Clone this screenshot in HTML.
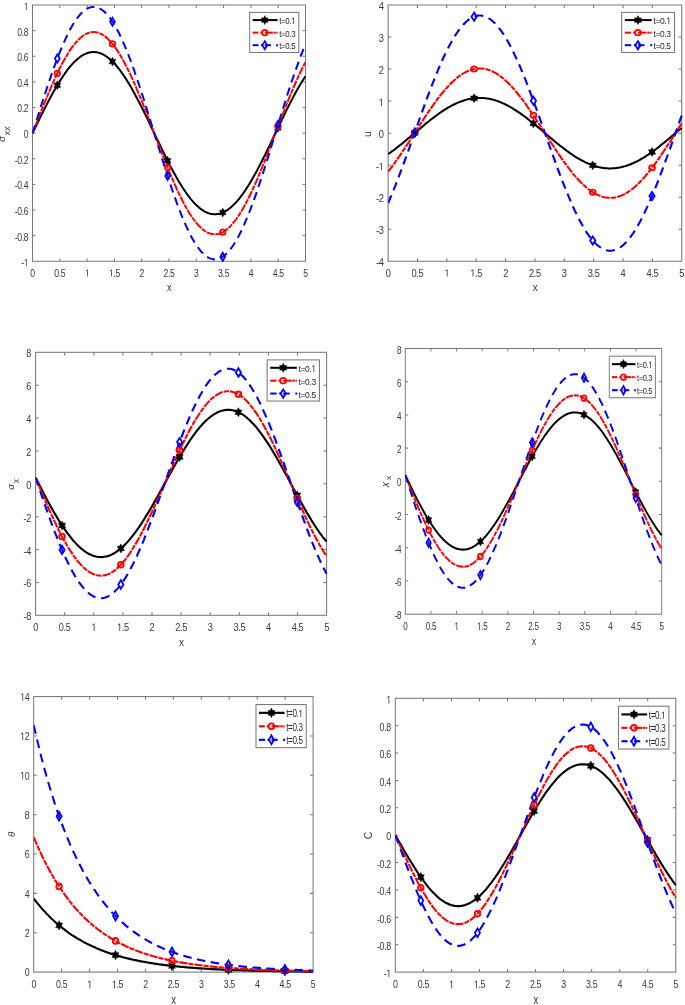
<!DOCTYPE html>
<html><head><meta charset="utf-8"><title>plots</title>
<style>html,body{margin:0;padding:0;background:#fff;}svg{display:block;will-change:transform;filter:blur(0.35px);}</style>
</head><body>
<svg width="685" height="1005" viewBox="0 0 685 1005" font-family="'Liberation Sans', sans-serif" fill="#383838">
<rect x="0" y="0" width="685" height="1005" fill="#ffffff"/>
<g transform="translate(32.50,5.00) scale(1.0000,1.0000)">
<g stroke="#787878" stroke-width="1" fill="none">
<rect x="0" y="0" width="273.00" height="256.30"/>
<path d="M27.30 256.30v-3.00M27.30 0.00v3.00M54.60 256.30v-3.00M54.60 0.00v3.00M81.90 256.30v-3.00M81.90 0.00v3.00M109.20 256.30v-3.00M109.20 0.00v3.00M136.50 256.30v-3.00M136.50 0.00v3.00M163.80 256.30v-3.00M163.80 0.00v3.00M191.10 256.30v-3.00M191.10 0.00v3.00M218.40 256.30v-3.00M218.40 0.00v3.00M245.70 256.30v-3.00M245.70 0.00v3.00M0.00 230.67h3.00M273.00 230.67h-3.00M0.00 205.04h3.00M273.00 205.04h-3.00M0.00 179.41h3.00M273.00 179.41h-3.00M0.00 153.78h3.00M273.00 153.78h-3.00M0.00 128.15h3.00M273.00 128.15h-3.00M0.00 102.52h3.00M273.00 102.52h-3.00M0.00 76.89h3.00M273.00 76.89h-3.00M0.00 51.26h3.00M273.00 51.26h-3.00M0.00 25.63h3.00M273.00 25.63h-3.00"/>
</g>
<clipPath id="c0"><rect x="0" y="-1" width="274.00" height="258.30"/></clipPath>
<g clip-path="url(#c0)" fill="none" stroke-width="2.0">
<polyline points="0.0,128.2 1.1,125.9 2.2,123.7 3.3,121.5 4.4,119.3 5.5,117.1 6.6,114.8 7.6,112.6 8.7,110.4 9.8,108.2 10.9,106.1 12.0,103.9 13.1,101.7 14.2,99.6 15.3,97.5 16.4,95.4 17.5,93.3 18.6,91.3 19.7,89.3 20.7,87.3 21.8,85.4 22.9,83.4 24.0,81.6 25.1,79.7 26.2,77.9 27.3,76.1 28.4,74.4 29.5,72.7 30.6,71.1 31.7,69.5 32.8,67.9 33.9,66.4 34.9,64.9 36.0,63.5 37.1,62.2 38.2,60.9 39.3,59.6 40.4,58.4 41.5,57.3 42.6,56.2 43.7,55.2 44.8,54.2 45.9,53.3 47.0,52.4 48.0,51.6 49.1,50.9 50.2,50.2 51.3,49.6 52.4,49.1 53.5,48.6 54.6,48.2 55.7,47.8 56.8,47.5 57.9,47.3 59.0,47.2 60.1,47.1 61.2,47.0 62.2,47.1 63.3,47.2 64.4,47.3 65.5,47.6 66.6,47.9 67.7,48.2 68.8,48.6 69.9,49.1 71.0,49.7 72.1,50.3 73.2,51.0 74.3,51.7 75.3,52.5 76.4,53.3 77.5,54.3 78.6,55.2 79.7,56.3 80.8,57.4 81.9,58.5 83.0,59.7 84.1,61.0 85.2,62.3 86.3,63.7 87.4,65.1 88.5,66.6 89.5,68.1 90.6,69.6 91.7,71.3 92.8,72.9 93.9,74.6 95.0,76.4 96.1,78.1 97.2,80.0 98.3,81.8 99.4,83.7 100.5,85.7 101.6,87.7 102.6,89.7 103.7,91.7 104.8,93.8 105.9,95.9 107.0,98.0 108.1,100.1 109.2,102.3 110.3,104.5 111.4,106.7 112.5,108.9 113.6,111.1 114.7,113.4 115.8,115.6 116.8,117.9 117.9,120.2 119.0,122.5 120.1,124.8 121.2,127.1 122.3,129.4 123.4,131.7 124.5,134.0 125.6,136.2 126.7,138.5 127.8,140.8 128.9,143.1 129.9,145.3 131.0,147.5 132.1,149.8 133.2,152.0 134.3,154.2 135.4,156.3 136.5,158.5 137.6,160.6 138.7,162.7 139.8,164.7 140.9,166.8 142.0,168.8 143.1,170.7 144.1,172.7 145.2,174.6 146.3,176.4 147.4,178.3 148.5,180.0 149.6,181.8 150.7,183.5 151.8,185.1 152.9,186.8 154.0,188.3 155.1,189.8 156.2,191.3 157.2,192.7 158.3,194.1 159.4,195.4 160.5,196.6 161.6,197.9 162.7,199.0 163.8,200.1 164.9,201.1 166.0,202.1 167.1,203.0 168.2,203.9 169.3,204.7 170.4,205.4 171.4,206.1 172.5,206.7 173.6,207.2 174.7,207.7 175.8,208.1 176.9,208.5 178.0,208.8 179.1,209.0 180.2,209.1 181.3,209.2 182.4,209.3 183.5,209.2 184.5,209.1 185.6,209.0 186.7,208.7 187.8,208.5 188.9,208.1 190.0,207.7 191.1,207.2 192.2,206.6 193.3,206.0 194.4,205.4 195.5,204.6 196.6,203.8 197.7,203.0 198.7,202.0 199.8,201.1 200.9,200.0 202.0,198.9 203.1,197.8 204.2,196.6 205.3,195.3 206.4,194.0 207.5,192.6 208.6,191.2 209.7,189.8 210.8,188.2 211.8,186.7 212.9,185.1 214.0,183.4 215.1,181.7 216.2,180.0 217.3,178.2 218.4,176.3 219.5,174.5 220.6,172.6 221.7,170.6 222.8,168.7 223.9,166.7 225.0,164.6 226.0,162.6 227.1,160.5 228.2,158.4 229.3,156.2 230.4,154.0 231.5,151.9 232.6,149.7 233.7,147.4 234.8,145.2 235.9,142.9 237.0,140.7 238.1,138.4 239.1,136.1 240.2,133.8 241.3,131.5 242.4,129.3 243.5,127.0 244.6,124.7 245.7,122.4 246.8,120.1 247.9,117.8 249.0,115.5 250.1,113.3 251.2,111.0 252.3,108.8 253.3,106.6 254.4,104.4 255.5,102.2 256.6,100.0 257.7,97.9 258.8,95.7 259.9,93.7 261.0,91.6 262.1,89.6 263.2,87.6 264.3,85.6 265.4,83.6 266.4,81.7 267.5,79.9 268.6,78.1 269.7,76.3 270.8,74.5 271.9,72.8 273.0,71.2" stroke="#000000"/>
<polyline points="0.0,128.2 1.1,125.4 2.2,122.6 3.3,119.9 4.4,117.1 5.5,114.3 6.6,111.6 7.6,108.8 8.7,106.1 9.8,103.3 10.9,100.6 12.0,97.9 13.1,95.2 14.2,92.6 15.3,89.9 16.4,87.3 17.5,84.8 18.6,82.2 19.7,79.7 20.7,77.2 21.8,74.8 22.9,72.4 24.0,70.1 25.1,67.8 26.2,65.5 27.3,63.3 28.4,61.1 29.5,59.0 30.6,57.0 31.7,55.0 32.8,53.0 33.9,51.2 34.9,49.4 36.0,47.6 37.1,45.9 38.2,44.3 39.3,42.7 40.4,41.2 41.5,39.8 42.6,38.4 43.7,37.2 44.8,36.0 45.9,34.8 47.0,33.8 48.0,32.8 49.1,31.9 50.2,31.0 51.3,30.3 52.4,29.6 53.5,29.0 54.6,28.5 55.7,28.0 56.8,27.7 57.9,27.4 59.0,27.2 60.1,27.1 61.2,27.0 62.2,27.1 63.3,27.2 64.4,27.4 65.5,27.7 66.6,28.1 67.7,28.5 68.8,29.0 69.9,29.6 71.0,30.3 72.1,31.1 73.2,31.9 74.3,32.9 75.3,33.8 76.4,34.9 77.5,36.1 78.6,37.3 79.7,38.6 80.8,39.9 81.9,41.4 83.0,42.9 84.1,44.4 85.2,46.1 86.3,47.8 87.4,49.5 88.5,51.4 89.5,53.3 90.6,55.2 91.7,57.2 92.8,59.3 93.9,61.4 95.0,63.6 96.1,65.8 97.2,68.1 98.3,70.4 99.4,72.8 100.5,75.2 101.6,77.7 102.6,80.2 103.7,82.7 104.8,85.3 105.9,87.9 107.0,90.5 108.1,93.2 109.2,95.9 110.3,98.6 111.4,101.4 112.5,104.1 113.6,106.9 114.7,109.7 115.8,112.6 116.8,115.4 117.9,118.2 119.0,121.1 120.1,123.9 121.2,126.8 122.3,129.7 123.4,132.5 124.5,135.4 125.6,138.2 126.7,141.1 127.8,143.9 128.9,146.7 129.9,149.5 131.0,152.3 132.1,155.1 133.2,157.8 134.3,160.6 135.4,163.3 136.5,165.9 137.6,168.6 138.7,171.2 139.8,173.7 140.9,176.3 142.0,178.8 143.1,181.2 144.1,183.6 145.2,186.0 146.3,188.3 147.4,190.6 148.5,192.8 149.6,195.0 150.7,197.1 151.8,199.2 152.9,201.2 154.0,203.2 155.1,205.0 156.2,206.9 157.2,208.6 158.3,210.3 159.4,212.0 160.5,213.5 161.6,215.0 162.7,216.5 163.8,217.8 164.9,219.1 166.0,220.3 167.1,221.5 168.2,222.5 169.3,223.5 170.4,224.4 171.4,225.3 172.5,226.0 173.6,226.7 174.7,227.3 175.8,227.8 176.9,228.3 178.0,228.6 179.1,228.9 180.2,229.1 181.3,229.2 182.4,229.3 183.5,229.2 184.5,229.1 185.6,228.9 186.7,228.6 187.8,228.2 188.9,227.8 190.0,227.3 191.1,226.7 192.2,226.0 193.3,225.2 194.4,224.4 195.5,223.5 196.6,222.5 197.7,221.4 198.7,220.3 199.8,219.0 200.9,217.7 202.0,216.4 203.1,215.0 204.2,213.5 205.3,211.9 206.4,210.2 207.5,208.5 208.6,206.8 209.7,204.9 210.8,203.1 211.8,201.1 212.9,199.1 214.0,197.0 215.1,194.9 216.2,192.7 217.3,190.5 218.4,188.2 219.5,185.9 220.6,183.5 221.7,181.1 222.8,178.7 223.9,176.2 225.0,173.6 226.0,171.0 227.1,168.4 228.2,165.8 229.3,163.1 230.4,160.4 231.5,157.7 232.6,155.0 233.7,152.2 234.8,149.4 235.9,146.6 237.0,143.8 238.1,140.9 239.1,138.1 240.2,135.2 241.3,132.4 242.4,129.5 243.5,126.7 244.6,123.8 245.7,120.9 246.8,118.1 247.9,115.3 249.0,112.4 250.1,109.6 251.2,106.8 252.3,104.0 253.3,101.2 254.4,98.5 255.5,95.8 256.6,93.1 257.7,90.4 258.8,87.8 259.9,85.2 261.0,82.6 262.1,80.0 263.2,77.5 264.3,75.1 265.4,72.7 266.4,70.3 267.5,68.0 268.6,65.7 269.7,63.5 270.8,61.3 271.9,59.2 273.0,57.1" stroke="#ff0000" stroke-dasharray="7.9 1.0 5.0 1.0"/>
<polyline points="0.0,128.2 1.1,124.7 2.2,121.3 3.3,117.8 4.4,114.3 5.5,110.9 6.6,107.4 7.6,104.0 8.7,100.6 9.8,97.2 10.9,93.8 12.0,90.4 13.1,87.1 14.2,83.7 15.3,80.5 16.4,77.2 17.5,74.0 18.6,70.8 19.7,67.7 20.7,64.6 21.8,61.6 22.9,58.6 24.0,55.6 25.1,52.8 26.2,50.0 27.3,47.2 28.4,44.5 29.5,41.9 30.6,39.3 31.7,36.8 32.8,34.4 33.9,32.0 34.9,29.8 36.0,27.6 37.1,25.5 38.2,23.4 39.3,21.5 40.4,19.6 41.5,17.8 42.6,16.2 43.7,14.6 44.8,13.0 45.9,11.6 47.0,10.3 48.0,9.1 49.1,7.9 50.2,6.9 51.3,6.0 52.4,5.1 53.5,4.4 54.6,3.7 55.7,3.2 56.8,2.7 57.9,2.4 59.0,2.1 60.1,2.0 61.2,1.9 62.2,2.0 63.3,2.1 64.4,2.4 65.5,2.7 66.6,3.2 67.7,3.8 68.8,4.4 69.9,5.2 71.0,6.0 72.1,7.0 73.2,8.0 74.3,9.2 75.3,10.4 76.4,11.8 77.5,13.2 78.6,14.7 79.7,16.3 80.8,18.0 81.9,19.8 83.0,21.7 84.1,23.6 85.2,25.7 86.3,27.8 87.4,30.0 88.5,32.3 89.5,34.7 90.6,37.1 91.7,39.6 92.8,42.2 93.9,44.8 95.0,47.6 96.1,50.3 97.2,53.2 98.3,56.1 99.4,59.0 100.5,62.1 101.6,65.1 102.6,68.3 103.7,71.4 104.8,74.6 105.9,77.9 107.0,81.2 108.1,84.5 109.2,87.9 110.3,91.3 111.4,94.7 112.5,98.2 113.6,101.7 114.7,105.2 115.8,108.7 116.8,112.2 117.9,115.8 119.0,119.3 120.1,122.9 121.2,126.5 122.3,130.0 123.4,133.6 124.5,137.2 125.6,140.7 126.7,144.3 127.8,147.8 128.9,151.3 129.9,154.8 131.0,158.3 132.1,161.8 133.2,165.2 134.3,168.6 135.4,172.0 136.5,175.3 137.6,178.6 138.7,181.9 139.8,185.1 140.9,188.2 142.0,191.4 143.1,194.4 144.1,197.4 145.2,200.4 146.3,203.3 147.4,206.1 148.5,208.9 149.6,211.6 150.7,214.3 151.8,216.8 152.9,219.3 154.0,221.8 155.1,224.1 156.2,226.4 157.2,228.6 158.3,230.7 159.4,232.8 160.5,234.7 161.6,236.6 162.7,238.4 163.8,240.1 164.9,241.7 166.0,243.2 167.1,244.6 168.2,246.0 169.3,247.2 170.4,248.3 171.4,249.4 172.5,250.3 173.6,251.2 174.7,251.9 175.8,252.6 176.9,253.1 178.0,253.6 179.1,253.9 180.2,254.2 181.3,254.3 182.4,254.4 183.5,254.3 184.5,254.2 185.6,253.9 186.7,253.6 187.8,253.1 188.9,252.5 190.0,251.9 191.1,251.1 192.2,250.3 193.3,249.3 194.4,248.3 195.5,247.1 196.6,245.9 197.7,244.6 198.7,243.1 199.8,241.6 200.9,240.0 202.0,238.3 203.1,236.5 204.2,234.6 205.3,232.7 206.4,230.6 207.5,228.5 208.6,226.3 209.7,224.0 210.8,221.7 211.8,219.2 212.9,216.7 214.0,214.1 215.1,211.5 216.2,208.8 217.3,206.0 218.4,203.1 219.5,200.2 220.6,197.3 221.7,194.3 222.8,191.2 223.9,188.1 225.0,184.9 226.0,181.7 227.1,178.4 228.2,175.1 229.3,171.8 230.4,168.4 231.5,165.0 232.6,161.6 233.7,158.2 234.8,154.7 235.9,151.2 237.0,147.6 238.1,144.1 239.1,140.6 240.2,137.0 241.3,133.4 242.4,129.9 243.5,126.3 244.6,122.7 245.7,119.2 246.8,115.6 247.9,112.0 249.0,108.5 250.1,105.0 251.2,101.5 252.3,98.0 253.3,94.6 254.4,91.1 255.5,87.7 256.6,84.4 257.7,81.0 258.8,77.7 259.9,74.5 261.0,71.3 262.1,68.1 263.2,65.0 264.3,61.9 265.4,58.9 266.4,55.9 267.5,53.0 268.6,50.2 269.7,47.4 270.8,44.7 271.9,42.1 273.0,39.5" stroke="#0000ff" stroke-dasharray="8.3 5.4"/>
</g>
<polygon points="24.82,75.81 23.70,78.01 21.46,78.01 22.58,80.21 21.46,82.41 23.70,82.41 24.82,84.61 25.94,82.41 28.17,82.41 27.05,80.21 28.17,78.01 25.94,78.01" fill="#000" stroke="#000" stroke-width="0.5" stroke-linejoin="round"/>
<polygon points="79.97,52.13 78.85,54.33 76.62,54.33 77.73,56.53 76.62,58.73 78.85,58.73 79.97,60.93 81.09,58.73 83.32,58.73 82.21,56.53 83.32,54.33 81.09,54.33" fill="#000" stroke="#000" stroke-width="0.5" stroke-linejoin="round"/>
<polygon points="135.12,151.35 134.00,153.55 131.77,153.55 132.89,155.75 131.77,157.95 134.00,157.95 135.12,160.15 136.24,157.95 138.47,157.95 137.36,155.75 138.47,153.55 136.24,153.55" fill="#000" stroke="#000" stroke-width="0.5" stroke-linejoin="round"/>
<polygon points="190.27,203.16 189.15,205.36 186.92,205.36 188.04,207.56 186.92,209.76 189.15,209.76 190.27,211.96 191.39,209.76 193.63,209.76 192.51,207.56 193.63,205.36 191.39,205.36" fill="#000" stroke="#000" stroke-width="0.5" stroke-linejoin="round"/>
<polygon points="245.42,118.55 244.31,120.75 242.07,120.75 243.19,122.95 242.07,125.15 244.31,125.15 245.42,127.35 246.54,125.15 248.78,125.15 247.66,122.95 248.78,120.75 246.54,120.75" fill="#000" stroke="#000" stroke-width="0.5" stroke-linejoin="round"/>
<circle cx="24.82" cy="68.39" r="2.70" fill="none" stroke="#ff0000" stroke-width="1.75"/>
<circle cx="79.97" cy="38.88" r="2.70" fill="none" stroke="#ff0000" stroke-width="1.75"/>
<circle cx="135.12" cy="162.55" r="2.70" fill="none" stroke="#ff0000" stroke-width="1.75"/>
<circle cx="190.27" cy="227.13" r="2.70" fill="none" stroke="#ff0000" stroke-width="1.75"/>
<circle cx="245.42" cy="121.67" r="2.70" fill="none" stroke="#ff0000" stroke-width="1.75"/>
<polygon points="24.82,49.45 27.27,53.55 24.82,57.65 22.37,53.55" fill="none" stroke="#0000ff" stroke-width="1.7" stroke-linejoin="miter"/>
<polygon points="79.97,12.60 82.42,16.70 79.97,20.80 77.52,16.70" fill="none" stroke="#0000ff" stroke-width="1.7" stroke-linejoin="miter"/>
<polygon points="135.12,167.00 137.57,171.10 135.12,175.20 132.67,171.10" fill="none" stroke="#0000ff" stroke-width="1.7" stroke-linejoin="miter"/>
<polygon points="190.27,247.62 192.72,251.72 190.27,255.82 187.82,251.72" fill="none" stroke="#0000ff" stroke-width="1.7" stroke-linejoin="miter"/>
<polygon points="245.42,115.96 247.87,120.06 245.42,124.16 242.97,120.06" fill="none" stroke="#0000ff" stroke-width="1.7" stroke-linejoin="miter"/>
<text transform="translate(0.00,271.55) scale(0.830,1)" text-anchor="middle" font-size="10.40" letter-spacing="-0.4" >0</text>
<text transform="translate(27.30,271.55) scale(0.830,1)" text-anchor="middle" font-size="10.40" letter-spacing="-0.4" >0.5</text>
<g transform="translate(54.60,271.55) scale(0.830,1)" font-size="10.40" ><path transform="translate(-2.69,0) scale(0.00508,-0.00508)" d="M515 0V1237L197 1010V1180L530 1409H696V0Z"/></g>
<g transform="translate(81.90,271.55) scale(0.830,1)" font-size="10.40" ><path transform="translate(-6.63,0) scale(0.00508,-0.00508)" d="M515 0V1237L197 1010V1180L530 1409H696V0Z"/><text x="-1.24" letter-spacing="-0.4">.5</text></g>
<text transform="translate(109.20,271.55) scale(0.830,1)" text-anchor="middle" font-size="10.40" letter-spacing="-0.4" >2</text>
<text transform="translate(136.50,271.55) scale(0.830,1)" text-anchor="middle" font-size="10.40" letter-spacing="-0.4" >2.5</text>
<text transform="translate(163.80,271.55) scale(0.830,1)" text-anchor="middle" font-size="10.40" letter-spacing="-0.4" >3</text>
<text transform="translate(191.10,271.55) scale(0.830,1)" text-anchor="middle" font-size="10.40" letter-spacing="-0.4" >3.5</text>
<text transform="translate(218.40,271.55) scale(0.830,1)" text-anchor="middle" font-size="10.40" letter-spacing="-0.4" >4</text>
<text transform="translate(245.70,271.55) scale(0.830,1)" text-anchor="middle" font-size="10.40" letter-spacing="-0.4" >4.5</text>
<text transform="translate(273.00,271.55) scale(0.830,1)" text-anchor="middle" font-size="10.40" letter-spacing="-0.4" >5</text>
<g transform="translate(-4.30,261.20) scale(0.830,1)" font-size="10.40" ><text x="-8.45" letter-spacing="-0.4">-</text><path transform="translate(-5.38,0) scale(0.00508,-0.00508)" d="M515 0V1237L197 1010V1180L530 1409H696V0Z"/></g>
<text transform="translate(-4.30,235.57) scale(0.830,1)" text-anchor="end" font-size="10.40" letter-spacing="-0.4" >-0.8</text>
<text transform="translate(-4.30,209.94) scale(0.830,1)" text-anchor="end" font-size="10.40" letter-spacing="-0.4" >-0.6</text>
<text transform="translate(-4.30,184.31) scale(0.830,1)" text-anchor="end" font-size="10.40" letter-spacing="-0.4" >-0.4</text>
<text transform="translate(-4.30,158.68) scale(0.830,1)" text-anchor="end" font-size="10.40" letter-spacing="-0.4" >-0.2</text>
<text transform="translate(-4.30,133.05) scale(0.830,1)" text-anchor="end" font-size="10.40" letter-spacing="-0.4" >0</text>
<text transform="translate(-4.30,107.42) scale(0.830,1)" text-anchor="end" font-size="10.40" letter-spacing="-0.4" >0.2</text>
<text transform="translate(-4.30,81.79) scale(0.830,1)" text-anchor="end" font-size="10.40" letter-spacing="-0.4" >0.4</text>
<text transform="translate(-4.30,56.16) scale(0.830,1)" text-anchor="end" font-size="10.40" letter-spacing="-0.4" >0.6</text>
<text transform="translate(-4.30,30.53) scale(0.830,1)" text-anchor="end" font-size="10.40" letter-spacing="-0.4" >0.8</text>
<g transform="translate(-4.30,4.90) scale(0.830,1)" font-size="10.40" ><path transform="translate(-5.38,0) scale(0.00508,-0.00508)" d="M515 0V1237L197 1010V1180L530 1409H696V0Z"/></g>
<text transform="translate(136.70,285.90) scale(0.830,1)" text-anchor="middle" font-size="11.30" letter-spacing="-0.4" >x</text>
<text transform="translate(-27.20,136.90) scale(1.0000,1.0000) rotate(-90) scale(1.150,1)" text-anchor="start" font-size="8.60" font-style="italic">&#963;</text>
<text transform="translate(-22.50,130.20) scale(1.0000,1.0000) rotate(-90) scale(1.000,1)" text-anchor="start" font-size="8.70">xx</text>
<rect x="217.20" y="7.40" width="49.10" height="40.10" fill="#fff" stroke="#787878" stroke-width="1"/>
<line x1="220.10" y1="15.10" x2="245.10" y2="15.10" stroke="#000000" stroke-width="2.0"/>
<polygon points="232.30,10.70 231.18,12.90 228.95,12.90 230.06,15.10 228.95,17.30 231.18,17.30 232.30,19.50 233.42,17.30 235.65,17.30 234.54,15.10 235.65,12.90 233.42,12.90" fill="#000" stroke="#000" stroke-width="0.5" stroke-linejoin="round"/>
<g transform="translate(246.70,19.10) scale(0.830,1)" font-size="9.50" fill="#262626"><text x="0.00" letter-spacing="-0.4">t=0.</text><path transform="translate(14.51,0) scale(0.00464,-0.00464)" d="M515 0V1237L197 1010V1180L530 1409H696V0Z"/></g>
<line x1="220.10" y1="27.65" x2="225.80" y2="27.65" stroke="#ff0000" stroke-width="2.0"/>
<line x1="227.80" y1="27.65" x2="229.60" y2="27.65" stroke="#ff0000" stroke-width="2.0"/>
<line x1="232.30" y1="27.65" x2="240.30" y2="27.65" stroke="#ff0000" stroke-width="2.0"/>
<line x1="241.00" y1="27.65" x2="243.20" y2="27.65" stroke="#ff0000" stroke-width="2.0"/>
<line x1="243.80" y1="27.65" x2="245.10" y2="27.65" stroke="#ff0000" stroke-width="2.0"/>
<circle cx="232.30" cy="27.65" r="2.70" fill="none" stroke="#ff0000" stroke-width="1.75"/>
<text transform="translate(246.70,31.65) scale(0.830,1)" text-anchor="start" font-size="9.50" letter-spacing="-0.4" fill="#262626">t=0.3</text>
<line x1="220.10" y1="40.20" x2="226.10" y2="40.20" stroke="#0000ff" stroke-width="2.0"/>
<line x1="228.50" y1="40.20" x2="230.00" y2="40.20" stroke="#0000ff" stroke-width="2.0"/>
<line x1="232.30" y1="40.20" x2="238.40" y2="40.20" stroke="#0000ff" stroke-width="2.0"/>
<line x1="243.70" y1="40.20" x2="245.50" y2="40.20" stroke="#0000ff" stroke-width="2.0"/>
<polygon points="232.30,36.10 234.75,40.20 232.30,44.30 229.85,40.20" fill="none" stroke="#0000ff" stroke-width="1.7" stroke-linejoin="miter"/>
<text transform="translate(246.70,44.20) scale(0.830,1)" text-anchor="start" font-size="9.50" letter-spacing="-0.4" fill="#262626">t=0.5</text>
</g>
<g transform="translate(388.10,5.00) scale(1.0755,1.0000)">
<g stroke="#787878" stroke-width="1" fill="none">
<rect x="0" y="0" width="273.00" height="256.30"/>
<path d="M27.30 256.30v-3.00M27.30 0.00v3.00M54.60 256.30v-3.00M54.60 0.00v3.00M81.90 256.30v-3.00M81.90 0.00v3.00M109.20 256.30v-3.00M109.20 0.00v3.00M136.50 256.30v-3.00M136.50 0.00v3.00M163.80 256.30v-3.00M163.80 0.00v3.00M191.10 256.30v-3.00M191.10 0.00v3.00M218.40 256.30v-3.00M218.40 0.00v3.00M245.70 256.30v-3.00M245.70 0.00v3.00M0.00 224.26h3.00M273.00 224.26h-3.00M0.00 192.23h3.00M273.00 192.23h-3.00M0.00 160.19h3.00M273.00 160.19h-3.00M0.00 128.15h3.00M273.00 128.15h-3.00M0.00 96.11h3.00M273.00 96.11h-3.00M0.00 64.07h3.00M273.00 64.07h-3.00M0.00 32.04h3.00M273.00 32.04h-3.00"/>
</g>
<clipPath id="c1"><rect x="0" y="-1" width="274.00" height="258.30"/></clipPath>
<g clip-path="url(#c1)" fill="none" stroke-width="2.0">
<polyline points="0.0,149.1 1.1,148.3 2.2,147.5 3.3,146.6 4.4,145.8 5.5,144.9 6.6,144.0 7.6,143.1 8.7,142.2 9.8,141.3 10.9,140.3 12.0,139.4 13.1,138.5 14.2,137.5 15.3,136.5 16.4,135.6 17.5,134.6 18.6,133.6 19.7,132.6 20.7,131.6 21.8,130.6 22.9,129.6 24.0,128.6 25.1,127.7 26.2,126.7 27.3,125.7 28.4,124.7 29.5,123.7 30.6,122.7 31.7,121.7 32.8,120.7 33.9,119.8 34.9,118.8 36.0,117.8 37.1,116.9 38.2,116.0 39.3,115.0 40.4,114.1 41.5,113.2 42.6,112.3 43.7,111.4 44.8,110.5 45.9,109.7 47.0,108.8 48.0,108.0 49.1,107.2 50.2,106.4 51.3,105.6 52.4,104.9 53.5,104.1 54.6,103.4 55.7,102.7 56.8,102.0 57.9,101.4 59.0,100.7 60.1,100.1 61.2,99.5 62.2,99.0 63.3,98.4 64.4,97.9 65.5,97.4 66.6,96.9 67.7,96.5 68.8,96.1 69.9,95.7 71.0,95.3 72.1,94.9 73.2,94.6 74.3,94.3 75.3,94.1 76.4,93.8 77.5,93.6 78.6,93.4 79.7,93.3 80.8,93.1 81.9,93.0 83.0,93.0 84.1,92.9 85.2,92.9 86.3,92.9 87.4,93.0 88.5,93.0 89.5,93.1 90.6,93.3 91.7,93.4 92.8,93.6 93.9,93.8 95.0,94.0 96.1,94.3 97.2,94.6 98.3,94.9 99.4,95.2 100.5,95.6 101.6,96.0 102.6,96.4 103.7,96.9 104.8,97.4 105.9,97.9 107.0,98.4 108.1,98.9 109.2,99.5 110.3,100.1 111.4,100.7 112.5,101.3 113.6,102.0 114.7,102.7 115.8,103.4 116.8,104.1 117.9,104.8 119.0,105.6 120.1,106.3 121.2,107.1 122.3,107.9 123.4,108.8 124.5,109.6 125.6,110.5 126.7,111.3 127.8,112.2 128.9,113.1 129.9,114.0 131.0,114.9 132.1,115.9 133.2,116.8 134.3,117.8 135.4,118.7 136.5,119.7 137.6,120.6 138.7,121.6 139.8,122.6 140.9,123.6 142.0,124.6 143.1,125.6 144.1,126.6 145.2,127.6 146.3,128.6 147.4,129.6 148.5,130.6 149.6,131.5 150.7,132.5 151.8,133.5 152.9,134.5 154.0,135.5 155.1,136.5 156.2,137.4 157.2,138.4 158.3,139.3 159.4,140.3 160.5,141.2 161.6,142.1 162.7,143.0 163.8,143.9 164.9,144.8 166.0,145.7 167.1,146.5 168.2,147.4 169.3,148.2 170.4,149.0 171.4,149.8 172.5,150.6 173.6,151.4 174.7,152.1 175.8,152.8 176.9,153.5 178.0,154.2 179.1,154.9 180.2,155.5 181.3,156.1 182.4,156.7 183.5,157.3 184.5,157.8 185.6,158.4 186.7,158.9 187.8,159.3 188.9,159.8 190.0,160.2 191.1,160.6 192.2,161.0 193.3,161.3 194.4,161.7 195.5,162.0 196.6,162.2 197.7,162.5 198.7,162.7 199.8,162.9 200.9,163.0 202.0,163.2 203.1,163.3 204.2,163.3 205.3,163.4 206.4,163.4 207.5,163.4 208.6,163.3 209.7,163.3 210.8,163.2 211.8,163.1 212.9,162.9 214.0,162.7 215.1,162.5 216.2,162.3 217.3,162.0 218.4,161.7 219.5,161.4 220.6,161.1 221.7,160.7 222.8,160.3 223.9,159.9 225.0,159.5 226.0,159.0 227.1,158.5 228.2,158.0 229.3,157.4 230.4,156.9 231.5,156.3 232.6,155.7 233.7,155.0 234.8,154.4 235.9,153.7 237.0,153.0 238.1,152.3 239.1,151.6 240.2,150.8 241.3,150.0 242.4,149.2 243.5,148.4 244.6,147.6 245.7,146.8 246.8,145.9 247.9,145.0 249.0,144.2 250.1,143.3 251.2,142.4 252.3,141.4 253.3,140.5 254.4,139.6 255.5,138.6 256.6,137.7 257.7,136.7 258.8,135.7 259.9,134.8 261.0,133.8 262.1,132.8 263.2,131.8 264.3,130.8 265.4,129.8 266.4,128.8 267.5,127.8 268.6,126.8 269.7,125.8 270.8,124.8 271.9,123.9 273.0,122.9" stroke="#000000"/>
<polyline points="0.0,166.6 1.1,165.1 2.2,163.6 3.3,162.1 4.4,160.5 5.5,158.9 6.6,157.3 7.6,155.6 8.7,153.9 9.8,152.3 10.9,150.6 12.0,148.8 13.1,147.1 14.2,145.3 15.3,143.6 16.4,141.8 17.5,140.0 18.6,138.2 19.7,136.4 20.7,134.5 21.8,132.7 22.9,130.9 24.0,129.1 25.1,127.2 26.2,125.4 27.3,123.6 28.4,121.8 29.5,119.9 30.6,118.1 31.7,116.3 32.8,114.5 33.9,112.7 34.9,111.0 36.0,109.2 37.1,107.5 38.2,105.7 39.3,104.0 40.4,102.4 41.5,100.7 42.6,99.0 43.7,97.4 44.8,95.8 45.9,94.2 47.0,92.7 48.0,91.2 49.1,89.7 50.2,88.2 51.3,86.8 52.4,85.4 53.5,84.1 54.6,82.7 55.7,81.5 56.8,80.2 57.9,79.0 59.0,77.8 60.1,76.7 61.2,75.6 62.2,74.6 63.3,73.6 64.4,72.6 65.5,71.7 66.6,70.8 67.7,70.0 68.8,69.2 69.9,68.5 71.0,67.8 72.1,67.2 73.2,66.6 74.3,66.0 75.3,65.5 76.4,65.1 77.5,64.7 78.6,64.4 79.7,64.1 80.8,63.9 81.9,63.7 83.0,63.5 84.1,63.5 85.2,63.4 86.3,63.5 87.4,63.5 88.5,63.7 89.5,63.8 90.6,64.1 91.7,64.3 92.8,64.7 93.9,65.1 95.0,65.5 96.1,66.0 97.2,66.5 98.3,67.1 99.4,67.7 100.5,68.4 101.6,69.1 102.6,69.9 103.7,70.7 104.8,71.6 105.9,72.5 107.0,73.5 108.1,74.5 109.2,75.5 110.3,76.6 111.4,77.7 112.5,78.9 113.6,80.1 114.7,81.3 115.8,82.6 116.8,83.9 117.9,85.3 119.0,86.7 120.1,88.1 121.2,89.6 122.3,91.0 123.4,92.6 124.5,94.1 125.6,95.7 126.7,97.3 127.8,98.9 128.9,100.5 129.9,102.2 131.0,103.9 132.1,105.6 133.2,107.3 134.3,109.1 135.4,110.8 136.5,112.6 137.6,114.4 138.7,116.2 139.8,118.0 140.9,119.8 142.0,121.6 143.1,123.4 144.1,125.2 145.2,127.1 146.3,128.9 147.4,130.7 148.5,132.6 149.6,134.4 150.7,136.2 151.8,138.0 152.9,139.8 154.0,141.6 155.1,143.4 156.2,145.2 157.2,146.9 158.3,148.7 159.4,150.4 160.5,152.1 161.6,153.8 162.7,155.5 163.8,157.1 164.9,158.7 166.0,160.3 167.1,161.9 168.2,163.5 169.3,165.0 170.4,166.5 171.4,167.9 172.5,169.4 173.6,170.8 174.7,172.1 175.8,173.4 176.9,174.7 178.0,176.0 179.1,177.2 180.2,178.4 181.3,179.5 182.4,180.6 183.5,181.6 184.5,182.7 185.6,183.6 186.7,184.5 187.8,185.4 188.9,186.2 190.0,187.0 191.1,187.8 192.2,188.5 193.3,189.1 194.4,189.7 195.5,190.2 196.6,190.7 197.7,191.2 198.7,191.6 199.8,191.9 200.9,192.2 202.0,192.4 203.1,192.6 204.2,192.7 205.3,192.8 206.4,192.9 207.5,192.8 208.6,192.8 209.7,192.7 210.8,192.5 211.8,192.3 212.9,192.0 214.0,191.6 215.1,191.3 216.2,190.8 217.3,190.4 218.4,189.8 219.5,189.3 220.6,188.6 221.7,188.0 222.8,187.2 223.9,186.5 225.0,185.6 226.0,184.8 227.1,183.9 228.2,182.9 229.3,181.9 230.4,180.9 231.5,179.8 232.6,178.7 233.7,177.5 234.8,176.3 235.9,175.1 237.0,173.8 238.1,172.5 239.1,171.1 240.2,169.7 241.3,168.3 242.4,166.9 243.5,165.4 244.6,163.9 245.7,162.3 246.8,160.8 247.9,159.2 249.0,157.6 250.1,155.9 251.2,154.2 252.3,152.6 253.3,150.9 254.4,149.1 255.5,147.4 256.6,145.6 257.7,143.9 258.8,142.1 259.9,140.3 261.0,138.5 262.1,136.7 263.2,134.9 264.3,133.0 265.4,131.2 266.4,129.4 267.5,127.6 268.6,125.7 269.7,123.9 270.8,122.1 271.9,120.3 273.0,118.4" stroke="#ff0000" stroke-dasharray="7.9 1.0 5.0 1.0"/>
<polyline points="0.0,198.0 1.1,195.3 2.2,192.6 3.3,189.8 4.4,186.9 5.5,184.0 6.6,181.0 7.6,178.1 8.7,175.0 9.8,172.0 10.9,168.9 12.0,165.7 13.1,162.6 14.2,159.4 15.3,156.1 16.4,152.9 17.5,149.6 18.6,146.4 19.7,143.1 20.7,139.8 21.8,136.5 22.9,133.1 24.0,129.8 25.1,126.5 26.2,123.2 27.3,119.8 28.4,116.5 29.5,113.2 30.6,109.9 31.7,106.7 32.8,103.4 33.9,100.2 34.9,96.9 36.0,93.7 37.1,90.6 38.2,87.4 39.3,84.3 40.4,81.3 41.5,78.2 42.6,75.3 43.7,72.3 44.8,69.4 45.9,66.5 47.0,63.7 48.0,61.0 49.1,58.3 50.2,55.6 51.3,53.0 52.4,50.5 53.5,48.1 54.6,45.7 55.7,43.3 56.8,41.0 57.9,38.9 59.0,36.7 60.1,34.7 61.2,32.7 62.2,30.8 63.3,29.0 64.4,27.2 65.5,25.6 66.6,24.0 67.7,22.5 68.8,21.1 69.9,19.7 71.0,18.5 72.1,17.3 73.2,16.3 74.3,15.3 75.3,14.4 76.4,13.6 77.5,12.9 78.6,12.3 79.7,11.8 80.8,11.3 81.9,11.0 83.0,10.8 84.1,10.6 85.2,10.6 86.3,10.6 87.4,10.8 88.5,11.0 89.5,11.3 90.6,11.7 91.7,12.2 92.8,12.8 93.9,13.5 95.0,14.3 96.1,15.2 97.2,16.2 98.3,17.2 99.4,18.4 100.5,19.6 101.6,20.9 102.6,22.3 103.7,23.8 104.8,25.4 105.9,27.1 107.0,28.8 108.1,30.6 109.2,32.5 110.3,34.5 111.4,36.5 112.5,38.7 113.6,40.9 114.7,43.1 115.8,45.4 116.8,47.8 117.9,50.3 119.0,52.8 120.1,55.4 121.2,58.0 122.3,60.7 123.4,63.5 124.5,66.3 125.6,69.1 126.7,72.0 127.8,75.0 128.9,78.0 129.9,81.0 131.0,84.1 132.1,87.2 133.2,90.3 134.3,93.5 135.4,96.7 136.5,99.9 137.6,103.1 138.7,106.4 139.8,109.6 140.9,112.9 142.0,116.2 143.1,119.5 144.1,122.9 145.2,126.2 146.3,129.5 147.4,132.8 148.5,136.2 149.6,139.5 150.7,142.8 151.8,146.1 152.9,149.4 154.0,152.6 155.1,155.9 156.2,159.1 157.2,162.3 158.3,165.4 159.4,168.6 160.5,171.7 161.6,174.8 162.7,177.8 163.8,180.8 164.9,183.7 166.0,186.6 167.1,189.5 168.2,192.3 169.3,195.1 170.4,197.8 171.4,200.4 172.5,203.0 173.6,205.6 174.7,208.0 175.8,210.4 176.9,212.8 178.0,215.1 179.1,217.3 180.2,219.4 181.3,221.5 182.4,223.4 183.5,225.3 184.5,227.2 185.6,228.9 186.7,230.6 187.8,232.2 188.9,233.7 190.0,235.1 191.1,236.5 192.2,237.7 193.3,238.9 194.4,239.9 195.5,240.9 196.6,241.8 197.7,242.6 198.7,243.3 199.8,244.0 200.9,244.5 202.0,244.9 203.1,245.3 204.2,245.5 205.3,245.7 206.4,245.7 207.5,245.7 208.6,245.6 209.7,245.3 210.8,245.0 211.8,244.6 212.9,244.1 214.0,243.5 215.1,242.8 216.2,242.1 217.3,241.2 218.4,240.2 219.5,239.2 220.6,238.0 221.7,236.8 222.8,235.5 223.9,234.1 225.0,232.6 226.0,231.0 227.1,229.4 228.2,227.7 229.3,225.8 230.4,224.0 231.5,222.0 232.6,219.9 233.7,217.8 234.8,215.6 235.9,213.4 237.0,211.1 238.1,208.7 239.1,206.2 240.2,203.7 241.3,201.1 242.4,198.5 243.5,195.8 244.6,193.1 245.7,190.3 246.8,187.4 247.9,184.5 249.0,181.6 250.1,178.6 251.2,175.6 252.3,172.5 253.3,169.4 254.4,166.3 255.5,163.1 256.6,159.9 257.7,156.7 258.8,153.5 259.9,150.2 261.0,146.9 262.1,143.7 263.2,140.4 264.3,137.0 265.4,133.7 266.4,130.4 267.5,127.1 268.6,123.8 269.7,120.4 270.8,117.1 271.9,113.8 273.0,110.5" stroke="#0000ff" stroke-dasharray="8.3 5.4"/>
</g>
<polygon points="24.82,123.52 23.70,125.72 21.46,125.72 22.58,127.92 21.46,130.12 23.70,130.12 24.82,132.32 25.94,130.12 28.17,130.12 27.05,127.92 28.17,125.72 25.94,125.72" fill="#000" stroke="#000" stroke-width="0.5" stroke-linejoin="round"/>
<polygon points="79.97,88.83 78.85,91.03 76.62,91.03 77.73,93.23 76.62,95.43 78.85,95.43 79.97,97.63 81.09,95.43 83.32,95.43 82.21,93.23 83.32,91.03 81.09,91.03" fill="#000" stroke="#000" stroke-width="0.5" stroke-linejoin="round"/>
<polygon points="135.12,114.06 134.00,116.26 131.77,116.26 132.89,118.46 131.77,120.66 134.00,120.66 135.12,122.86 136.24,120.66 138.47,120.66 137.36,118.46 138.47,116.26 136.24,116.26" fill="#000" stroke="#000" stroke-width="0.5" stroke-linejoin="round"/>
<polygon points="190.27,155.91 189.15,158.11 186.92,158.11 188.04,160.31 186.92,162.51 189.15,162.51 190.27,164.71 191.39,162.51 193.63,162.51 192.51,160.31 193.63,158.11 191.39,158.11" fill="#000" stroke="#000" stroke-width="0.5" stroke-linejoin="round"/>
<polygon points="245.42,142.58 244.31,144.78 242.07,144.78 243.19,146.98 242.07,149.18 244.31,149.18 245.42,151.38 246.54,149.18 248.78,149.18 247.66,146.98 248.78,144.78 246.54,144.78" fill="#000" stroke="#000" stroke-width="0.5" stroke-linejoin="round"/>
<circle cx="24.82" cy="127.73" r="2.70" fill="none" stroke="#ff0000" stroke-width="1.75"/>
<circle cx="79.97" cy="64.03" r="2.70" fill="none" stroke="#ff0000" stroke-width="1.75"/>
<circle cx="135.12" cy="110.35" r="2.70" fill="none" stroke="#ff0000" stroke-width="1.75"/>
<circle cx="190.27" cy="187.21" r="2.70" fill="none" stroke="#ff0000" stroke-width="1.75"/>
<circle cx="245.42" cy="162.72" r="2.70" fill="none" stroke="#ff0000" stroke-width="1.75"/>
<polygon points="24.82,123.29 27.27,127.39 24.82,131.49 22.37,127.39" fill="none" stroke="#0000ff" stroke-width="1.7" stroke-linejoin="miter"/>
<polygon points="79.97,7.56 82.42,11.66 79.97,15.76 77.52,11.66" fill="none" stroke="#0000ff" stroke-width="1.7" stroke-linejoin="miter"/>
<polygon points="135.12,91.72 137.57,95.82 135.12,99.92 132.67,95.82" fill="none" stroke="#0000ff" stroke-width="1.7" stroke-linejoin="miter"/>
<polygon points="190.27,231.36 192.72,235.46 190.27,239.56 187.82,235.46" fill="none" stroke="#0000ff" stroke-width="1.7" stroke-linejoin="miter"/>
<polygon points="245.42,186.87 247.87,190.97 245.42,195.07 242.97,190.97" fill="none" stroke="#0000ff" stroke-width="1.7" stroke-linejoin="miter"/>
<text transform="translate(0.00,271.55) scale(0.830,1)" text-anchor="middle" font-size="10.40" letter-spacing="-0.4" >0</text>
<text transform="translate(27.30,271.55) scale(0.830,1)" text-anchor="middle" font-size="10.40" letter-spacing="-0.4" >0.5</text>
<g transform="translate(54.60,271.55) scale(0.830,1)" font-size="10.40" ><path transform="translate(-2.69,0) scale(0.00508,-0.00508)" d="M515 0V1237L197 1010V1180L530 1409H696V0Z"/></g>
<g transform="translate(81.90,271.55) scale(0.830,1)" font-size="10.40" ><path transform="translate(-6.63,0) scale(0.00508,-0.00508)" d="M515 0V1237L197 1010V1180L530 1409H696V0Z"/><text x="-1.24" letter-spacing="-0.4">.5</text></g>
<text transform="translate(109.20,271.55) scale(0.830,1)" text-anchor="middle" font-size="10.40" letter-spacing="-0.4" >2</text>
<text transform="translate(136.50,271.55) scale(0.830,1)" text-anchor="middle" font-size="10.40" letter-spacing="-0.4" >2.5</text>
<text transform="translate(163.80,271.55) scale(0.830,1)" text-anchor="middle" font-size="10.40" letter-spacing="-0.4" >3</text>
<text transform="translate(191.10,271.55) scale(0.830,1)" text-anchor="middle" font-size="10.40" letter-spacing="-0.4" >3.5</text>
<text transform="translate(218.40,271.55) scale(0.830,1)" text-anchor="middle" font-size="10.40" letter-spacing="-0.4" >4</text>
<text transform="translate(245.70,271.55) scale(0.830,1)" text-anchor="middle" font-size="10.40" letter-spacing="-0.4" >4.5</text>
<text transform="translate(273.00,271.55) scale(0.830,1)" text-anchor="middle" font-size="10.40" letter-spacing="-0.4" >5</text>
<text transform="translate(-4.30,261.20) scale(0.830,1)" text-anchor="end" font-size="10.40" letter-spacing="-0.4" >-4</text>
<text transform="translate(-4.30,229.16) scale(0.830,1)" text-anchor="end" font-size="10.40" letter-spacing="-0.4" >-3</text>
<text transform="translate(-4.30,197.13) scale(0.830,1)" text-anchor="end" font-size="10.40" letter-spacing="-0.4" >-2</text>
<g transform="translate(-4.30,165.09) scale(0.830,1)" font-size="10.40" ><text x="-8.45" letter-spacing="-0.4">-</text><path transform="translate(-5.38,0) scale(0.00508,-0.00508)" d="M515 0V1237L197 1010V1180L530 1409H696V0Z"/></g>
<text transform="translate(-4.30,133.05) scale(0.830,1)" text-anchor="end" font-size="10.40" letter-spacing="-0.4" >0</text>
<g transform="translate(-4.30,101.01) scale(0.830,1)" font-size="10.40" ><path transform="translate(-5.38,0) scale(0.00508,-0.00508)" d="M515 0V1237L197 1010V1180L530 1409H696V0Z"/></g>
<text transform="translate(-4.30,68.97) scale(0.830,1)" text-anchor="end" font-size="10.40" letter-spacing="-0.4" >2</text>
<text transform="translate(-4.30,36.94) scale(0.830,1)" text-anchor="end" font-size="10.40" letter-spacing="-0.4" >3</text>
<text transform="translate(-4.30,4.90) scale(0.830,1)" text-anchor="end" font-size="10.40" letter-spacing="-0.4" >4</text>
<text transform="translate(136.70,285.90) scale(0.830,1)" text-anchor="middle" font-size="11.30" letter-spacing="-0.4" >x</text>
<text transform="translate(-16.09,129.00) scale(0.9298,1.0000) rotate(-90) scale(0.930,1)" text-anchor="middle" font-size="11.30">u</text>
<rect x="217.20" y="7.40" width="49.10" height="40.10" fill="#fff" stroke="#787878" stroke-width="1"/>
<line x1="220.10" y1="15.10" x2="245.10" y2="15.10" stroke="#000000" stroke-width="2.0"/>
<polygon points="232.30,10.70 231.18,12.90 228.95,12.90 230.06,15.10 228.95,17.30 231.18,17.30 232.30,19.50 233.42,17.30 235.65,17.30 234.54,15.10 235.65,12.90 233.42,12.90" fill="#000" stroke="#000" stroke-width="0.5" stroke-linejoin="round"/>
<g transform="translate(246.70,19.10) scale(0.830,1)" font-size="9.50" fill="#262626"><text x="0.00" letter-spacing="-0.4">t=0.</text><path transform="translate(14.51,0) scale(0.00464,-0.00464)" d="M515 0V1237L197 1010V1180L530 1409H696V0Z"/></g>
<line x1="220.10" y1="27.65" x2="225.80" y2="27.65" stroke="#ff0000" stroke-width="2.0"/>
<line x1="227.80" y1="27.65" x2="229.60" y2="27.65" stroke="#ff0000" stroke-width="2.0"/>
<line x1="232.30" y1="27.65" x2="240.30" y2="27.65" stroke="#ff0000" stroke-width="2.0"/>
<line x1="241.00" y1="27.65" x2="243.20" y2="27.65" stroke="#ff0000" stroke-width="2.0"/>
<line x1="243.80" y1="27.65" x2="245.10" y2="27.65" stroke="#ff0000" stroke-width="2.0"/>
<circle cx="232.30" cy="27.65" r="2.70" fill="none" stroke="#ff0000" stroke-width="1.75"/>
<text transform="translate(246.70,31.65) scale(0.830,1)" text-anchor="start" font-size="9.50" letter-spacing="-0.4" fill="#262626">t=0.3</text>
<line x1="220.10" y1="40.20" x2="226.10" y2="40.20" stroke="#0000ff" stroke-width="2.0"/>
<line x1="228.50" y1="40.20" x2="230.00" y2="40.20" stroke="#0000ff" stroke-width="2.0"/>
<line x1="232.30" y1="40.20" x2="238.40" y2="40.20" stroke="#0000ff" stroke-width="2.0"/>
<line x1="243.70" y1="40.20" x2="245.50" y2="40.20" stroke="#0000ff" stroke-width="2.0"/>
<polygon points="232.30,36.10 234.75,40.20 232.30,44.30 229.85,40.20" fill="none" stroke="#0000ff" stroke-width="1.7" stroke-linejoin="miter"/>
<text transform="translate(246.70,44.20) scale(0.830,1)" text-anchor="start" font-size="9.50" letter-spacing="-0.4" fill="#262626">t=0.5</text>
</g>
<g transform="translate(35.60,352.30) scale(1.0659,1.0261)">
<g stroke="#787878" stroke-width="1" fill="none">
<rect x="0" y="0" width="273.00" height="256.30"/>
<path d="M27.30 256.30v-3.00M27.30 0.00v3.00M54.60 256.30v-3.00M54.60 0.00v3.00M81.90 256.30v-3.00M81.90 0.00v3.00M109.20 256.30v-3.00M109.20 0.00v3.00M136.50 256.30v-3.00M136.50 0.00v3.00M163.80 256.30v-3.00M163.80 0.00v3.00M191.10 256.30v-3.00M191.10 0.00v3.00M218.40 256.30v-3.00M218.40 0.00v3.00M245.70 256.30v-3.00M245.70 0.00v3.00M0.00 224.26h3.00M273.00 224.26h-3.00M0.00 192.23h3.00M273.00 192.23h-3.00M0.00 160.19h3.00M273.00 160.19h-3.00M0.00 128.15h3.00M273.00 128.15h-3.00M0.00 96.11h3.00M273.00 96.11h-3.00M0.00 64.07h3.00M273.00 64.07h-3.00M0.00 32.04h3.00M273.00 32.04h-3.00"/>
</g>
<clipPath id="c2"><rect x="0" y="-1" width="274.00" height="258.30"/></clipPath>
<g clip-path="url(#c2)" fill="none" stroke-width="2.0">
<polyline points="0.0,122.1 1.1,124.3 2.2,126.6 3.3,128.8 4.4,131.0 5.5,133.3 6.6,135.4 7.6,137.6 8.7,139.8 9.8,141.9 10.9,144.1 12.0,146.1 13.1,148.2 14.2,150.3 15.3,152.3 16.4,154.3 17.5,156.3 18.6,158.2 19.7,160.1 20.7,162.0 21.8,163.8 22.9,165.7 24.0,167.4 25.1,169.2 26.2,170.9 27.3,172.5 28.4,174.1 29.5,175.7 30.6,177.3 31.7,178.7 32.8,180.2 33.9,181.6 34.9,183.0 36.0,184.3 37.1,185.5 38.2,186.7 39.3,187.9 40.4,189.0 41.5,190.1 42.6,191.1 43.7,192.0 44.8,192.9 45.9,193.8 47.0,194.5 48.0,195.3 49.1,195.9 50.2,196.6 51.3,197.1 52.4,197.6 53.5,198.1 54.6,198.5 55.7,198.8 56.8,199.1 57.9,199.3 59.0,199.4 60.1,199.5 61.2,199.6 62.2,199.6 63.3,199.5 64.4,199.3 65.5,199.1 66.6,198.9 67.7,198.6 68.8,198.2 69.9,197.8 71.0,197.3 72.1,196.7 73.2,196.1 74.3,195.5 75.3,194.8 76.4,194.0 77.5,193.2 78.6,192.3 79.7,191.4 80.8,190.4 81.9,189.4 83.0,188.3 84.1,187.1 85.2,186.0 86.3,184.7 87.4,183.5 88.5,182.1 89.5,180.8 90.6,179.4 91.7,177.9 92.8,176.4 93.9,174.9 95.0,173.3 96.1,171.7 97.2,170.1 98.3,168.4 99.4,166.7 100.5,164.9 101.6,163.1 102.6,161.3 103.7,159.5 104.8,157.6 105.9,155.8 107.0,153.9 108.1,151.9 109.2,150.0 110.3,148.0 111.4,146.0 112.5,144.0 113.6,142.0 114.7,140.0 115.8,137.9 116.8,135.9 117.9,133.9 119.0,131.8 120.1,129.7 121.2,127.7 122.3,125.6 123.4,123.6 124.5,121.5 125.6,119.4 126.7,117.4 127.8,115.4 128.9,113.3 129.9,111.3 131.0,109.3 132.1,107.3 133.2,105.4 134.3,103.4 135.4,101.5 136.5,99.6 137.6,97.7 138.7,95.8 139.8,94.0 140.9,92.2 142.0,90.4 143.1,88.6 144.1,86.9 145.2,85.2 146.3,83.6 147.4,82.0 148.5,80.4 149.6,78.9 150.7,77.4 151.8,75.9 152.9,74.5 154.0,73.2 155.1,71.8 156.2,70.6 157.2,69.3 158.3,68.2 159.4,67.0 160.5,66.0 161.6,64.9 162.7,64.0 163.8,63.0 164.9,62.2 166.0,61.4 167.1,60.6 168.2,59.9 169.3,59.3 170.4,58.7 171.4,58.2 172.5,57.7 173.6,57.3 174.7,56.9 175.8,56.6 176.9,56.4 178.0,56.2 179.1,56.1 180.2,56.1 181.3,56.1 182.4,56.1 183.5,56.3 184.5,56.5 185.6,56.7 186.7,57.0 187.8,57.4 188.9,57.8 190.0,58.3 191.1,58.8 192.2,59.5 193.3,60.1 194.4,60.8 195.5,61.6 196.6,62.4 197.7,63.3 198.7,64.3 199.8,65.3 200.9,66.3 202.0,67.4 203.1,68.6 204.2,69.8 205.3,71.0 206.4,72.3 207.5,73.7 208.6,75.1 209.7,76.5 210.8,78.0 211.8,79.5 212.9,81.1 214.0,82.7 215.1,84.4 216.2,86.0 217.3,87.8 218.4,89.5 219.5,91.3 220.6,93.1 221.7,95.0 222.8,96.9 223.9,98.8 225.0,100.7 226.0,102.6 227.1,104.6 228.2,106.6 229.3,108.6 230.4,110.7 231.5,112.7 232.6,114.8 233.7,116.8 234.8,118.9 235.9,121.0 237.0,123.1 238.1,125.2 239.1,127.3 240.2,129.4 241.3,131.5 242.4,133.6 243.5,135.7 244.6,137.8 245.7,139.9 246.8,142.0 247.9,144.1 249.0,146.1 250.1,148.1 251.2,150.2 252.3,152.2 253.3,154.1 254.4,156.1 255.5,158.0 256.6,159.9 257.7,161.8 258.8,163.7 259.9,165.5 261.0,167.3 262.1,169.0 263.2,170.8 264.3,172.5 265.4,174.1 266.4,175.7 267.5,177.3 268.6,178.8 269.7,180.3 270.8,181.7 271.9,183.1 273.0,184.5" stroke="#000000"/>
<polyline points="0.0,122.1 1.1,124.8 2.2,127.6 3.3,130.3 4.4,133.1 5.5,135.8 6.6,138.5 7.6,141.2 8.7,143.8 9.8,146.5 10.9,149.1 12.0,151.7 13.1,154.2 14.2,156.7 15.3,159.2 16.4,161.7 17.5,164.1 18.6,166.5 19.7,168.9 20.7,171.2 21.8,173.5 22.9,175.7 24.0,177.9 25.1,180.1 26.2,182.2 27.3,184.2 28.4,186.2 29.5,188.2 30.6,190.1 31.7,191.9 32.8,193.7 33.9,195.5 34.9,197.1 36.0,198.8 37.1,200.3 38.2,201.8 39.3,203.3 40.4,204.6 41.5,205.9 42.6,207.2 43.7,208.4 44.8,209.5 45.9,210.5 47.0,211.5 48.0,212.4 49.1,213.2 50.2,214.0 51.3,214.7 52.4,215.3 53.5,215.9 54.6,216.3 55.7,216.7 56.8,217.1 57.9,217.3 59.0,217.5 60.1,217.6 61.2,217.7 62.2,217.7 63.3,217.5 64.4,217.4 65.5,217.1 66.6,216.8 67.7,216.4 68.8,215.9 69.9,215.4 71.0,214.8 72.1,214.1 73.2,213.3 74.3,212.5 75.3,211.6 76.4,210.6 77.5,209.6 78.6,208.5 79.7,207.3 80.8,206.1 81.9,204.8 83.0,203.4 84.1,202.0 85.2,200.5 86.3,199.0 87.4,197.4 88.5,195.8 89.5,194.0 90.6,192.3 91.7,190.5 92.8,188.6 93.9,186.7 95.0,184.7 96.1,182.7 97.2,180.6 98.3,178.5 99.4,176.4 100.5,174.2 101.6,172.0 102.6,169.7 103.7,167.4 104.8,165.1 105.9,162.7 107.0,160.3 108.1,157.9 109.2,155.5 110.3,153.0 111.4,150.5 112.5,148.0 113.6,145.5 114.7,143.0 115.8,140.4 116.8,137.9 117.9,135.3 119.0,132.7 120.1,130.2 121.2,127.6 122.3,125.0 123.4,122.4 124.5,119.8 125.6,117.3 126.7,114.7 127.8,112.2 128.9,109.6 129.9,107.1 131.0,104.6 132.1,102.1 133.2,99.6 134.3,97.2 135.4,94.8 136.5,92.4 137.6,90.0 138.7,87.7 139.8,85.4 140.9,83.1 142.0,80.9 143.1,78.7 144.1,76.6 145.2,74.5 146.3,72.4 147.4,70.4 148.5,68.4 149.6,66.5 150.7,64.6 151.8,62.8 152.9,61.1 154.0,59.4 155.1,57.7 156.2,56.1 157.2,54.6 158.3,53.1 159.4,51.7 160.5,50.3 161.6,49.1 162.7,47.8 163.8,46.7 164.9,45.6 166.0,44.6 167.1,43.7 168.2,42.8 169.3,42.0 170.4,41.2 171.4,40.6 172.5,40.0 173.6,39.5 174.7,39.0 175.8,38.7 176.9,38.4 178.0,38.2 179.1,38.0 180.2,38.0 181.3,38.0 182.4,38.1 183.5,38.2 184.5,38.5 185.6,38.8 186.7,39.2 187.8,39.6 188.9,40.2 190.0,40.8 191.1,41.4 192.2,42.2 193.3,43.0 194.4,43.9 195.5,44.9 196.6,45.9 197.7,47.1 198.7,48.2 199.8,49.5 200.9,50.8 202.0,52.2 203.1,53.6 204.2,55.1 205.3,56.7 206.4,58.3 207.5,60.0 208.6,61.8 209.7,63.6 210.8,65.4 211.8,67.3 212.9,69.3 214.0,71.3 215.1,73.4 216.2,75.5 217.3,77.6 218.4,79.8 219.5,82.1 220.6,84.3 221.7,86.6 222.8,89.0 223.9,91.4 225.0,93.8 226.0,96.2 227.1,98.7 228.2,101.2 229.3,103.7 230.4,106.3 231.5,108.8 232.6,111.4 233.7,114.0 234.8,116.6 235.9,119.2 237.0,121.9 238.1,124.5 239.1,127.1 240.2,129.8 241.3,132.4 242.4,135.0 243.5,137.6 244.6,140.3 245.7,142.9 246.8,145.5 247.9,148.0 249.0,150.6 250.1,153.2 251.2,155.7 252.3,158.2 253.3,160.7 254.4,163.1 255.5,165.5 256.6,167.9 257.7,170.3 258.8,172.6 259.9,174.9 261.0,177.1 262.1,179.3 263.2,181.5 264.3,183.6 265.4,185.6 266.4,187.7 267.5,189.6 268.6,191.5 269.7,193.4 270.8,195.2 271.9,196.9 273.0,198.6" stroke="#ff0000" stroke-dasharray="7.9 1.0 5.0 1.0"/>
<polyline points="0.0,122.1 1.1,125.4 2.2,128.8 3.3,132.2 4.4,135.5 5.5,138.9 6.6,142.2 7.6,145.4 8.7,148.7 9.8,151.9 10.9,155.2 12.0,158.3 13.1,161.5 14.2,164.6 15.3,167.7 16.4,170.7 17.5,173.7 18.6,176.6 19.7,179.5 20.7,182.4 21.8,185.2 22.9,187.9 24.0,190.6 25.1,193.3 26.2,195.9 27.3,198.4 28.4,200.9 29.5,203.3 30.6,205.6 31.7,207.9 32.8,210.1 33.9,212.3 34.9,214.3 36.0,216.3 37.1,218.3 38.2,220.1 39.3,221.9 40.4,223.6 41.5,225.2 42.6,226.7 43.7,228.2 44.8,229.5 45.9,230.8 47.0,232.0 48.0,233.1 49.1,234.2 50.2,235.1 51.3,236.0 52.4,236.7 53.5,237.4 54.6,238.0 55.7,238.5 56.8,238.9 57.9,239.2 59.0,239.5 60.1,239.6 61.2,239.6 62.2,239.6 63.3,239.4 64.4,239.2 65.5,238.9 66.6,238.5 67.7,238.0 68.8,237.4 69.9,236.7 71.0,235.9 72.1,235.1 73.2,234.1 74.3,233.1 75.3,232.0 76.4,230.8 77.5,229.5 78.6,228.1 79.7,226.7 80.8,225.1 81.9,223.5 83.0,221.8 84.1,220.1 85.2,218.2 86.3,216.3 87.4,214.3 88.5,212.3 89.5,210.1 90.6,207.9 91.7,205.7 92.8,203.3 93.9,201.0 95.0,198.5 96.1,196.0 97.2,193.4 98.3,190.8 99.4,188.1 100.5,185.4 101.6,182.7 102.6,179.9 103.7,177.0 104.8,174.1 105.9,171.2 107.0,168.2 108.1,165.2 109.2,162.2 110.3,159.1 111.4,156.0 112.5,152.9 113.6,149.8 114.7,146.6 115.8,143.4 116.8,140.3 117.9,137.1 119.0,133.9 120.1,130.7 121.2,127.5 122.3,124.2 123.4,121.0 124.5,117.8 125.6,114.6 126.7,111.5 127.8,108.3 128.9,105.1 129.9,102.0 131.0,98.9 132.1,95.8 133.2,92.7 134.3,89.7 135.4,86.7 136.5,83.7 137.6,80.8 138.7,77.9 139.8,75.0 140.9,72.2 142.0,69.4 143.1,66.7 144.1,64.0 145.2,61.4 146.3,58.9 147.4,56.3 148.5,53.9 149.6,51.5 150.7,49.2 151.8,46.9 152.9,44.7 154.0,42.6 155.1,40.6 156.2,38.6 157.2,36.7 158.3,34.8 159.4,33.1 160.5,31.4 161.6,29.8 162.7,28.3 163.8,26.9 164.9,25.5 166.0,24.3 167.1,23.1 168.2,22.0 169.3,21.0 170.4,20.1 171.4,19.3 172.5,18.5 173.6,17.9 174.7,17.4 175.8,16.9 176.9,16.5 178.0,16.3 179.1,16.1 180.2,16.0 181.3,16.0 182.4,16.1 183.5,16.3 184.5,16.6 185.6,17.0 186.7,17.5 187.8,18.1 188.9,18.7 190.0,19.5 191.1,20.3 192.2,21.3 193.3,22.3 194.4,23.4 195.5,24.6 196.6,25.9 197.7,27.3 198.7,28.8 199.8,30.3 200.9,32.0 202.0,33.7 203.1,35.5 204.2,37.4 205.3,39.3 206.4,41.3 207.5,43.4 208.6,45.6 209.7,47.8 210.8,50.1 211.8,52.5 212.9,55.0 214.0,57.5 215.1,60.0 216.2,62.6 217.3,65.3 218.4,68.1 219.5,70.8 220.6,73.7 221.7,76.5 222.8,79.5 223.9,82.4 225.0,85.4 226.0,88.5 227.1,91.5 228.2,94.7 229.3,97.8 230.4,101.0 231.5,104.1 232.6,107.3 233.7,110.6 234.8,113.8 235.9,117.1 237.0,120.3 238.1,123.6 239.1,126.9 240.2,130.1 241.3,133.4 242.4,136.7 243.5,140.0 244.6,143.2 245.7,146.5 246.8,149.7 247.9,152.9 249.0,156.1 250.1,159.2 251.2,162.4 252.3,165.5 253.3,168.6 254.4,171.6 255.5,174.6 256.6,177.6 257.7,180.5 258.8,183.4 259.9,186.2 261.0,189.0 262.1,191.8 263.2,194.4 264.3,197.1 265.4,199.6 266.4,202.1 267.5,204.6 268.6,207.0 269.7,209.3 270.8,211.5 271.9,213.7 273.0,215.8" stroke="#0000ff" stroke-dasharray="8.3 5.4"/>
</g>
<polygon points="24.82,164.29 23.70,166.49 21.46,166.49 22.58,168.69 21.46,170.89 23.70,170.89 24.82,173.09 25.94,170.89 28.17,170.89 27.05,168.69 28.17,166.49 25.94,166.49" fill="#000" stroke="#000" stroke-width="0.5" stroke-linejoin="round"/>
<polygon points="79.97,186.74 78.85,188.94 76.62,188.94 77.73,191.14 76.62,193.34 78.85,193.34 79.97,195.54 81.09,193.34 83.32,193.34 82.21,191.14 83.32,188.94 81.09,188.94" fill="#000" stroke="#000" stroke-width="0.5" stroke-linejoin="round"/>
<polygon points="135.12,97.58 134.00,99.78 131.77,99.78 132.89,101.98 131.77,104.18 134.00,104.18 135.12,106.38 136.24,104.18 138.47,104.18 137.36,101.98 138.47,99.78 136.24,99.78" fill="#000" stroke="#000" stroke-width="0.5" stroke-linejoin="round"/>
<polygon points="190.27,54.03 189.15,56.23 186.92,56.23 188.04,58.43 186.92,60.63 189.15,60.63 190.27,62.83 191.39,60.63 193.63,60.63 192.51,58.43 193.63,56.23 191.39,56.23" fill="#000" stroke="#000" stroke-width="0.5" stroke-linejoin="round"/>
<polygon points="245.42,134.99 244.31,137.19 242.07,137.19 243.19,139.39 242.07,141.59 244.31,141.59 245.42,143.79 246.54,141.59 248.78,141.59 247.66,139.39 248.78,137.19 246.54,137.19" fill="#000" stroke="#000" stroke-width="0.5" stroke-linejoin="round"/>
<circle cx="24.82" cy="179.49" r="2.70" fill="none" stroke="#ff0000" stroke-width="1.75"/>
<circle cx="79.97" cy="207.05" r="2.70" fill="none" stroke="#ff0000" stroke-width="1.75"/>
<circle cx="135.12" cy="95.42" r="2.70" fill="none" stroke="#ff0000" stroke-width="1.75"/>
<circle cx="190.27" cy="40.92" r="2.70" fill="none" stroke="#ff0000" stroke-width="1.75"/>
<circle cx="245.42" cy="142.21" r="2.70" fill="none" stroke="#ff0000" stroke-width="1.75"/>
<polygon points="24.82,188.48 27.27,192.58 24.82,196.68 22.37,192.58" fill="none" stroke="#0000ff" stroke-width="1.7" stroke-linejoin="miter"/>
<polygon points="79.97,222.22 82.42,226.32 79.97,230.42 77.52,226.32" fill="none" stroke="#0000ff" stroke-width="1.7" stroke-linejoin="miter"/>
<polygon points="135.12,83.36 137.57,87.46 135.12,91.56 132.67,87.46" fill="none" stroke="#0000ff" stroke-width="1.7" stroke-linejoin="miter"/>
<polygon points="190.27,15.60 192.72,19.70 190.27,23.80 187.82,19.70" fill="none" stroke="#0000ff" stroke-width="1.7" stroke-linejoin="miter"/>
<polygon points="245.42,141.53 247.87,145.63 245.42,149.73 242.97,145.63" fill="none" stroke="#0000ff" stroke-width="1.7" stroke-linejoin="miter"/>
<text transform="translate(0.00,271.55) scale(0.830,1)" text-anchor="middle" font-size="10.40" letter-spacing="-0.4" >0</text>
<text transform="translate(27.30,271.55) scale(0.830,1)" text-anchor="middle" font-size="10.40" letter-spacing="-0.4" >0.5</text>
<g transform="translate(54.60,271.55) scale(0.830,1)" font-size="10.40" ><path transform="translate(-2.69,0) scale(0.00508,-0.00508)" d="M515 0V1237L197 1010V1180L530 1409H696V0Z"/></g>
<g transform="translate(81.90,271.55) scale(0.830,1)" font-size="10.40" ><path transform="translate(-6.63,0) scale(0.00508,-0.00508)" d="M515 0V1237L197 1010V1180L530 1409H696V0Z"/><text x="-1.24" letter-spacing="-0.4">.5</text></g>
<text transform="translate(109.20,271.55) scale(0.830,1)" text-anchor="middle" font-size="10.40" letter-spacing="-0.4" >2</text>
<text transform="translate(136.50,271.55) scale(0.830,1)" text-anchor="middle" font-size="10.40" letter-spacing="-0.4" >2.5</text>
<text transform="translate(163.80,271.55) scale(0.830,1)" text-anchor="middle" font-size="10.40" letter-spacing="-0.4" >3</text>
<text transform="translate(191.10,271.55) scale(0.830,1)" text-anchor="middle" font-size="10.40" letter-spacing="-0.4" >3.5</text>
<text transform="translate(218.40,271.55) scale(0.830,1)" text-anchor="middle" font-size="10.40" letter-spacing="-0.4" >4</text>
<text transform="translate(245.70,271.55) scale(0.830,1)" text-anchor="middle" font-size="10.40" letter-spacing="-0.4" >4.5</text>
<text transform="translate(273.00,271.55) scale(0.830,1)" text-anchor="middle" font-size="10.40" letter-spacing="-0.4" >5</text>
<text transform="translate(-4.30,261.20) scale(0.830,1)" text-anchor="end" font-size="10.40" letter-spacing="-0.4" >-8</text>
<text transform="translate(-4.30,229.16) scale(0.830,1)" text-anchor="end" font-size="10.40" letter-spacing="-0.4" >-6</text>
<text transform="translate(-4.30,197.13) scale(0.830,1)" text-anchor="end" font-size="10.40" letter-spacing="-0.4" >-4</text>
<text transform="translate(-4.30,165.09) scale(0.830,1)" text-anchor="end" font-size="10.40" letter-spacing="-0.4" >-2</text>
<text transform="translate(-4.30,133.05) scale(0.830,1)" text-anchor="end" font-size="10.40" letter-spacing="-0.4" >0</text>
<text transform="translate(-4.30,101.01) scale(0.830,1)" text-anchor="end" font-size="10.40" letter-spacing="-0.4" >2</text>
<text transform="translate(-4.30,68.97) scale(0.830,1)" text-anchor="end" font-size="10.40" letter-spacing="-0.4" >4</text>
<text transform="translate(-4.30,36.94) scale(0.830,1)" text-anchor="end" font-size="10.40" letter-spacing="-0.4" >6</text>
<text transform="translate(-4.30,4.90) scale(0.830,1)" text-anchor="end" font-size="10.40" letter-spacing="-0.4" >8</text>
<text transform="translate(136.70,285.90) scale(0.830,1)" text-anchor="middle" font-size="11.30" letter-spacing="-0.4" >x</text>
<text transform="translate(-20.36,134.00) scale(0.9381,0.9745) rotate(-90) scale(1.100,1)" text-anchor="start" font-size="8.80" font-style="italic">&#963;</text>
<text transform="translate(-15.48,127.57) scale(0.9381,0.9745) rotate(-90) scale(0.950,1)" text-anchor="start" font-size="8.70">x</text>
<rect x="217.20" y="7.40" width="49.10" height="40.10" fill="#fff" stroke="#787878" stroke-width="1"/>
<line x1="220.10" y1="15.10" x2="245.10" y2="15.10" stroke="#000000" stroke-width="2.0"/>
<polygon points="232.30,10.70 231.18,12.90 228.95,12.90 230.06,15.10 228.95,17.30 231.18,17.30 232.30,19.50 233.42,17.30 235.65,17.30 234.54,15.10 235.65,12.90 233.42,12.90" fill="#000" stroke="#000" stroke-width="0.5" stroke-linejoin="round"/>
<g transform="translate(246.70,19.10) scale(0.830,1)" font-size="9.50" fill="#262626"><text x="0.00" letter-spacing="-0.4">t=0.</text><path transform="translate(14.51,0) scale(0.00464,-0.00464)" d="M515 0V1237L197 1010V1180L530 1409H696V0Z"/></g>
<line x1="220.10" y1="27.65" x2="225.80" y2="27.65" stroke="#ff0000" stroke-width="2.0"/>
<line x1="227.80" y1="27.65" x2="229.60" y2="27.65" stroke="#ff0000" stroke-width="2.0"/>
<line x1="232.30" y1="27.65" x2="240.30" y2="27.65" stroke="#ff0000" stroke-width="2.0"/>
<line x1="241.00" y1="27.65" x2="243.20" y2="27.65" stroke="#ff0000" stroke-width="2.0"/>
<line x1="243.80" y1="27.65" x2="245.10" y2="27.65" stroke="#ff0000" stroke-width="2.0"/>
<circle cx="232.30" cy="27.65" r="2.70" fill="none" stroke="#ff0000" stroke-width="1.75"/>
<text transform="translate(246.70,31.65) scale(0.830,1)" text-anchor="start" font-size="9.50" letter-spacing="-0.4" fill="#262626">t=0.3</text>
<line x1="220.10" y1="40.20" x2="226.10" y2="40.20" stroke="#0000ff" stroke-width="2.0"/>
<line x1="228.50" y1="40.20" x2="230.00" y2="40.20" stroke="#0000ff" stroke-width="2.0"/>
<line x1="232.30" y1="40.20" x2="238.40" y2="40.20" stroke="#0000ff" stroke-width="2.0"/>
<line x1="243.70" y1="40.20" x2="245.50" y2="40.20" stroke="#0000ff" stroke-width="2.0"/>
<polygon points="232.30,36.10 234.75,40.20 232.30,44.30 229.85,40.20" fill="none" stroke="#0000ff" stroke-width="1.7" stroke-linejoin="miter"/>
<text transform="translate(246.70,44.20) scale(0.830,1)" text-anchor="start" font-size="9.50" letter-spacing="-0.4" fill="#262626">t=0.5</text>
</g>
<g transform="translate(405.30,348.50) scale(0.9392,1.0367)">
<g stroke="#787878" stroke-width="1" fill="none">
<rect x="0" y="0" width="273.00" height="256.30"/>
<path d="M27.30 256.30v-3.00M27.30 0.00v3.00M54.60 256.30v-3.00M54.60 0.00v3.00M81.90 256.30v-3.00M81.90 0.00v3.00M109.20 256.30v-3.00M109.20 0.00v3.00M136.50 256.30v-3.00M136.50 0.00v3.00M163.80 256.30v-3.00M163.80 0.00v3.00M191.10 256.30v-3.00M191.10 0.00v3.00M218.40 256.30v-3.00M218.40 0.00v3.00M245.70 256.30v-3.00M245.70 0.00v3.00M0.00 224.26h3.00M273.00 224.26h-3.00M0.00 192.23h3.00M273.00 192.23h-3.00M0.00 160.19h3.00M273.00 160.19h-3.00M0.00 128.15h3.00M273.00 128.15h-3.00M0.00 96.11h3.00M273.00 96.11h-3.00M0.00 64.07h3.00M273.00 64.07h-3.00M0.00 32.04h3.00M273.00 32.04h-3.00"/>
</g>
<clipPath id="c3"><rect x="0" y="-1" width="274.00" height="258.30"/></clipPath>
<g clip-path="url(#c3)" fill="none" stroke-width="2.0">
<polyline points="0.0,122.1 1.1,124.2 2.2,126.3 3.3,128.3 4.4,130.4 5.5,132.5 6.6,134.5 7.6,136.5 8.7,138.5 9.8,140.5 10.9,142.5 12.0,144.4 13.1,146.4 14.2,148.3 15.3,150.2 16.4,152.0 17.5,153.8 18.6,155.6 19.7,157.4 20.7,159.1 21.8,160.9 22.9,162.5 24.0,164.2 25.1,165.8 26.2,167.4 27.3,168.9 28.4,170.4 29.5,171.9 30.6,173.3 31.7,174.7 32.8,176.0 33.9,177.3 34.9,178.6 36.0,179.8 37.1,180.9 38.2,182.1 39.3,183.1 40.4,184.2 41.5,185.1 42.6,186.1 43.7,186.9 44.8,187.8 45.9,188.6 47.0,189.3 48.0,190.0 49.1,190.6 50.2,191.2 51.3,191.7 52.4,192.2 53.5,192.6 54.6,192.9 55.7,193.3 56.8,193.5 57.9,193.7 59.0,193.8 60.1,193.9 61.2,194.0 62.2,194.0 63.3,193.9 64.4,193.8 65.5,193.6 66.6,193.3 67.7,193.1 68.8,192.7 69.9,192.3 71.0,191.9 72.1,191.4 73.2,190.8 74.3,190.2 75.3,189.6 76.4,188.8 77.5,188.1 78.6,187.3 79.7,186.4 80.8,185.5 81.9,184.6 83.0,183.6 84.1,182.5 85.2,181.4 86.3,180.3 87.4,179.1 88.5,177.9 89.5,176.7 90.6,175.4 91.7,174.0 92.8,172.6 93.9,171.2 95.0,169.8 96.1,168.3 97.2,166.8 98.3,165.2 99.4,163.7 100.5,162.0 101.6,160.4 102.6,158.7 103.7,157.1 104.8,155.3 105.9,153.6 107.0,151.8 108.1,150.1 109.2,148.3 110.3,146.5 111.4,144.6 112.5,142.8 113.6,140.9 114.7,139.1 115.8,137.2 116.8,135.3 117.9,133.4 119.0,131.5 120.1,129.6 121.2,127.7 122.3,125.8 123.4,123.9 124.5,122.0 125.6,120.1 126.7,118.2 127.8,116.4 128.9,114.5 129.9,112.6 131.0,110.8 132.1,108.9 133.2,107.1 134.3,105.3 135.4,103.5 136.5,101.8 137.6,100.0 138.7,98.3 139.8,96.6 140.9,95.0 142.0,93.3 143.1,91.7 144.1,90.1 145.2,88.6 146.3,87.1 147.4,85.6 148.5,84.1 149.6,82.7 150.7,81.3 151.8,80.0 152.9,78.7 154.0,77.4 155.1,76.2 156.2,75.0 157.2,73.9 158.3,72.8 159.4,71.8 160.5,70.8 161.6,69.8 162.7,69.0 163.8,68.1 164.9,67.3 166.0,66.6 167.1,65.9 168.2,65.2 169.3,64.6 170.4,64.1 171.4,63.6 172.5,63.2 173.6,62.8 174.7,62.5 175.8,62.2 176.9,62.0 178.0,61.8 179.1,61.7 180.2,61.7 181.3,61.7 182.4,61.7 183.5,61.9 184.5,62.0 185.6,62.3 186.7,62.5 187.8,62.9 188.9,63.3 190.0,63.7 191.1,64.2 192.2,64.8 193.3,65.4 194.4,66.1 195.5,66.8 196.6,67.6 197.7,68.4 198.7,69.2 199.8,70.2 200.9,71.1 202.0,72.1 203.1,73.2 204.2,74.3 205.3,75.5 206.4,76.7 207.5,77.9 208.6,79.2 209.7,80.5 210.8,81.9 211.8,83.3 212.9,84.8 214.0,86.2 215.1,87.8 216.2,89.3 217.3,90.9 218.4,92.5 219.5,94.2 220.6,95.8 221.7,97.6 222.8,99.3 223.9,101.0 225.0,102.8 226.0,104.6 227.1,106.5 228.2,108.3 229.3,110.2 230.4,112.0 231.5,113.9 232.6,115.8 233.7,117.7 234.8,119.6 235.9,121.6 237.0,123.5 238.1,125.4 239.1,127.4 240.2,129.3 241.3,131.3 242.4,133.2 243.5,135.1 244.6,137.1 245.7,139.0 246.8,140.9 247.9,142.8 249.0,144.7 250.1,146.6 251.2,148.4 252.3,150.3 253.3,152.1 254.4,153.9 255.5,155.7 256.6,157.5 257.7,159.2 258.8,160.9 259.9,162.6 261.0,164.2 262.1,165.9 263.2,167.5 264.3,169.0 265.4,170.5 266.4,172.0 267.5,173.5 268.6,174.9 269.7,176.2 270.8,177.6 271.9,178.9 273.0,180.1" stroke="#000000"/>
<polyline points="0.0,122.1 1.1,124.6 2.2,127.2 3.3,129.7 4.4,132.3 5.5,134.8 6.6,137.3 7.6,139.8 8.7,142.2 9.8,144.7 10.9,147.1 12.0,149.5 13.1,151.8 14.2,154.2 15.3,156.5 16.4,158.8 17.5,161.0 18.6,163.2 19.7,165.4 20.7,167.5 21.8,169.6 22.9,171.7 24.0,173.7 25.1,175.7 26.2,177.7 27.3,179.6 28.4,181.4 29.5,183.2 30.6,185.0 31.7,186.7 32.8,188.3 33.9,189.9 34.9,191.5 36.0,193.0 37.1,194.4 38.2,195.8 39.3,197.1 40.4,198.4 41.5,199.6 42.6,200.8 43.7,201.8 44.8,202.9 45.9,203.8 47.0,204.7 48.0,205.6 49.1,206.3 50.2,207.1 51.3,207.7 52.4,208.3 53.5,208.8 54.6,209.2 55.7,209.6 56.8,209.9 57.9,210.2 59.0,210.3 60.1,210.4 61.2,210.5 62.2,210.4 63.3,210.4 64.4,210.2 65.5,210.0 66.6,209.7 67.7,209.3 68.8,208.9 69.9,208.4 71.0,207.8 72.1,207.2 73.2,206.5 74.3,205.7 75.3,204.9 76.4,204.0 77.5,203.1 78.6,202.0 79.7,201.0 80.8,199.8 81.9,198.6 83.0,197.4 84.1,196.1 85.2,194.7 86.3,193.3 87.4,191.9 88.5,190.3 89.5,188.8 90.6,187.1 91.7,185.5 92.8,183.7 93.9,182.0 95.0,180.2 96.1,178.3 97.2,176.4 98.3,174.5 99.4,172.5 100.5,170.5 101.6,168.5 102.6,166.4 103.7,164.3 104.8,162.1 105.9,159.9 107.0,157.8 108.1,155.5 109.2,153.3 110.3,151.0 111.4,148.7 112.5,146.4 113.6,144.1 114.7,141.8 115.8,139.4 116.8,137.1 117.9,134.7 119.0,132.4 120.1,130.0 121.2,127.6 122.3,125.2 123.4,122.9 124.5,120.5 125.6,118.1 126.7,115.8 127.8,113.4 128.9,111.1 129.9,108.8 131.0,106.5 132.1,104.2 133.2,101.9 134.3,99.7 135.4,97.4 136.5,95.2 137.6,93.1 138.7,90.9 139.8,88.8 140.9,86.7 142.0,84.7 143.1,82.7 144.1,80.7 145.2,78.8 146.3,76.9 147.4,75.0 148.5,73.2 149.6,71.4 150.7,69.7 151.8,68.0 152.9,66.4 154.0,64.8 155.1,63.3 156.2,61.9 157.2,60.5 158.3,59.1 159.4,57.8 160.5,56.6 161.6,55.4 162.7,54.3 163.8,53.2 164.9,52.2 166.0,51.3 167.1,50.4 168.2,49.6 169.3,48.9 170.4,48.2 171.4,47.6 172.5,47.0 173.6,46.6 174.7,46.2 175.8,45.8 176.9,45.6 178.0,45.4 179.1,45.2 180.2,45.2 181.3,45.2 182.4,45.3 183.5,45.4 184.5,45.6 185.6,45.9 186.7,46.3 187.8,46.7 188.9,47.2 190.0,47.7 191.1,48.4 192.2,49.1 193.3,49.8 194.4,50.7 195.5,51.6 196.6,52.5 197.7,53.5 198.7,54.6 199.8,55.8 200.9,57.0 202.0,58.2 203.1,59.6 204.2,61.0 205.3,62.4 206.4,63.9 207.5,65.5 208.6,67.1 209.7,68.7 210.8,70.4 211.8,72.2 212.9,74.0 214.0,75.8 215.1,77.7 216.2,79.7 217.3,81.7 218.4,83.7 219.5,85.7 220.6,87.8 221.7,90.0 222.8,92.1 223.9,94.3 225.0,96.5 226.0,98.8 227.1,101.1 228.2,103.4 229.3,105.7 230.4,108.0 231.5,110.4 232.6,112.8 233.7,115.1 234.8,117.5 235.9,119.9 237.0,122.4 238.1,124.8 239.1,127.2 240.2,129.6 241.3,132.0 242.4,134.5 243.5,136.9 244.6,139.3 245.7,141.7 246.8,144.1 247.9,146.5 249.0,148.8 250.1,151.2 251.2,153.5 252.3,155.8 253.3,158.1 254.4,160.3 255.5,162.5 256.6,164.7 257.7,166.9 258.8,169.0 259.9,171.1 261.0,173.2 262.1,175.2 263.2,177.2 264.3,179.2 265.4,181.0 266.4,182.9 267.5,184.7 268.6,186.5 269.7,188.2 270.8,189.8 271.9,191.4 273.0,193.0" stroke="#ff0000" stroke-dasharray="7.9 1.0 5.0 1.0"/>
<polyline points="0.0,122.1 1.1,125.2 2.2,128.3 3.3,131.4 4.4,134.5 5.5,137.6 6.6,140.7 7.6,143.7 8.7,146.7 9.8,149.7 10.9,152.7 12.0,155.6 13.1,158.6 14.2,161.4 15.3,164.3 16.4,167.1 17.5,169.8 18.6,172.6 19.7,175.3 20.7,177.9 21.8,180.5 22.9,183.0 24.0,185.5 25.1,188.0 26.2,190.4 27.3,192.7 28.4,195.0 29.5,197.2 30.6,199.4 31.7,201.5 32.8,203.5 33.9,205.5 34.9,207.4 36.0,209.3 37.1,211.1 38.2,212.8 39.3,214.4 40.4,216.0 41.5,217.5 42.6,218.9 43.7,220.2 44.8,221.5 45.9,222.7 47.0,223.8 48.0,224.8 49.1,225.8 50.2,226.6 51.3,227.4 52.4,228.1 53.5,228.8 54.6,229.3 55.7,229.8 56.8,230.1 57.9,230.4 59.0,230.7 60.1,230.8 61.2,230.8 62.2,230.8 63.3,230.7 64.4,230.4 65.5,230.1 66.6,229.8 67.7,229.3 68.8,228.8 69.9,228.1 71.0,227.4 72.1,226.6 73.2,225.8 74.3,224.8 75.3,223.8 76.4,222.7 77.5,221.5 78.6,220.2 79.7,218.9 80.8,217.5 81.9,216.0 83.0,214.5 84.1,212.8 85.2,211.1 86.3,209.4 87.4,207.5 88.5,205.6 89.5,203.7 90.6,201.6 91.7,199.6 92.8,197.4 93.9,195.2 95.0,193.0 96.1,190.7 97.2,188.3 98.3,185.9 99.4,183.4 100.5,180.9 101.6,178.4 102.6,175.8 103.7,173.1 104.8,170.5 105.9,167.8 107.0,165.0 108.1,162.3 109.2,159.5 110.3,156.7 111.4,153.8 112.5,150.9 113.6,148.1 114.7,145.2 115.8,142.2 116.8,139.3 117.9,136.4 119.0,133.4 120.1,130.5 121.2,127.5 122.3,124.5 123.4,121.6 124.5,118.6 125.6,115.7 126.7,112.8 127.8,109.8 128.9,106.9 129.9,104.0 131.0,101.2 132.1,98.3 133.2,95.5 134.3,92.7 135.4,89.9 136.5,87.2 137.6,84.5 138.7,81.8 139.8,79.2 140.9,76.6 142.0,74.0 143.1,71.5 144.1,69.1 145.2,66.7 146.3,64.3 147.4,62.0 148.5,59.7 149.6,57.5 150.7,55.4 151.8,53.3 152.9,51.3 154.0,49.3 155.1,47.4 156.2,45.6 157.2,43.9 158.3,42.2 159.4,40.6 160.5,39.0 161.6,37.5 162.7,36.1 163.8,34.8 164.9,33.6 166.0,32.4 167.1,31.3 168.2,30.3 169.3,29.4 170.4,28.6 171.4,27.8 172.5,27.2 173.6,26.6 174.7,26.1 175.8,25.6 176.9,25.3 178.0,25.1 179.1,24.9 180.2,24.8 181.3,24.8 182.4,24.9 183.5,25.1 184.5,25.4 185.6,25.7 186.7,26.2 187.8,26.7 188.9,27.3 190.0,28.0 191.1,28.8 192.2,29.7 193.3,30.6 194.4,31.7 195.5,32.8 196.6,34.0 197.7,35.2 198.7,36.6 199.8,38.0 200.9,39.5 202.0,41.1 203.1,42.8 204.2,44.5 205.3,46.3 206.4,48.1 207.5,50.1 208.6,52.1 209.7,54.1 210.8,56.3 211.8,58.5 212.9,60.7 214.0,63.0 215.1,65.4 216.2,67.8 217.3,70.3 218.4,72.8 219.5,75.3 220.6,77.9 221.7,80.6 222.8,83.3 223.9,86.0 225.0,88.8 226.0,91.6 227.1,94.4 228.2,97.3 229.3,100.2 230.4,103.1 231.5,106.0 232.6,109.0 233.7,111.9 234.8,114.9 235.9,117.9 237.0,120.9 238.1,124.0 239.1,127.0 240.2,130.0 241.3,133.0 242.4,136.0 243.5,139.0 244.6,142.0 245.7,145.0 246.8,148.0 247.9,150.9 249.0,153.9 250.1,156.8 251.2,159.7 252.3,162.6 253.3,165.4 254.4,168.2 255.5,171.0 256.6,173.7 257.7,176.4 258.8,179.1 259.9,181.7 261.0,184.2 262.1,186.8 263.2,189.2 264.3,191.7 265.4,194.0 266.4,196.3 267.5,198.6 268.6,200.8 269.7,202.9 270.8,205.0 271.9,206.9 273.0,208.9" stroke="#0000ff" stroke-dasharray="8.3 5.4"/>
</g>
<polygon points="24.82,160.95 23.70,163.15 21.46,163.15 22.58,165.35 21.46,167.55 23.70,167.55 24.82,169.75 25.94,167.55 28.17,167.55 27.05,165.35 28.17,163.15 25.94,163.15" fill="#000" stroke="#000" stroke-width="0.5" stroke-linejoin="round"/>
<polygon points="79.97,181.82 78.85,184.02 76.62,184.02 77.73,186.22 76.62,188.42 78.85,188.42 79.97,190.62 81.09,188.42 83.32,188.42 82.21,186.22 83.32,184.02 81.09,184.02" fill="#000" stroke="#000" stroke-width="0.5" stroke-linejoin="round"/>
<polygon points="135.12,99.61 134.00,101.81 131.77,101.81 132.89,104.01 131.77,106.21 134.00,106.21 135.12,108.41 136.24,106.21 138.47,106.21 137.36,104.01 138.47,101.81 136.24,101.81" fill="#000" stroke="#000" stroke-width="0.5" stroke-linejoin="round"/>
<polygon points="190.27,59.45 189.15,61.65 186.92,61.65 188.04,63.85 186.92,66.05 189.15,66.05 190.27,68.25 191.39,66.05 193.63,66.05 192.51,63.85 193.63,61.65 191.39,61.65" fill="#000" stroke="#000" stroke-width="0.5" stroke-linejoin="round"/>
<polygon points="245.42,134.12 244.31,136.32 242.07,136.32 243.19,138.52 242.07,140.72 244.31,140.72 245.42,142.92 246.54,140.72 248.78,140.72 247.66,138.52 248.78,136.32 246.54,136.32" fill="#000" stroke="#000" stroke-width="0.5" stroke-linejoin="round"/>
<circle cx="24.82" cy="175.19" r="2.70" fill="none" stroke="#ff0000" stroke-width="1.75"/>
<circle cx="79.97" cy="200.71" r="2.70" fill="none" stroke="#ff0000" stroke-width="1.75"/>
<circle cx="135.12" cy="98.03" r="2.70" fill="none" stroke="#ff0000" stroke-width="1.75"/>
<circle cx="190.27" cy="47.89" r="2.70" fill="none" stroke="#ff0000" stroke-width="1.75"/>
<circle cx="245.42" cy="141.09" r="2.70" fill="none" stroke="#ff0000" stroke-width="1.75"/>
<polygon points="24.82,183.22 27.27,187.32 24.82,191.42 22.37,187.32" fill="none" stroke="#0000ff" stroke-width="1.7" stroke-linejoin="miter"/>
<polygon points="79.97,214.48 82.42,218.58 79.97,222.68 77.52,218.58" fill="none" stroke="#0000ff" stroke-width="1.7" stroke-linejoin="miter"/>
<polygon points="135.12,86.56 137.57,90.66 135.12,94.76 132.67,90.66" fill="none" stroke="#0000ff" stroke-width="1.7" stroke-linejoin="miter"/>
<polygon points="190.27,24.12 192.72,28.22 190.27,32.32 187.82,28.22" fill="none" stroke="#0000ff" stroke-width="1.7" stroke-linejoin="miter"/>
<polygon points="245.42,140.16 247.87,144.26 245.42,148.36 242.97,144.26" fill="none" stroke="#0000ff" stroke-width="1.7" stroke-linejoin="miter"/>
<text transform="translate(0.00,271.55) scale(0.830,1)" text-anchor="middle" font-size="10.40" letter-spacing="-0.4" >0</text>
<text transform="translate(27.30,271.55) scale(0.830,1)" text-anchor="middle" font-size="10.40" letter-spacing="-0.4" >0.5</text>
<g transform="translate(54.60,271.55) scale(0.830,1)" font-size="10.40" ><path transform="translate(-2.69,0) scale(0.00508,-0.00508)" d="M515 0V1237L197 1010V1180L530 1409H696V0Z"/></g>
<g transform="translate(81.90,271.55) scale(0.830,1)" font-size="10.40" ><path transform="translate(-6.63,0) scale(0.00508,-0.00508)" d="M515 0V1237L197 1010V1180L530 1409H696V0Z"/><text x="-1.24" letter-spacing="-0.4">.5</text></g>
<text transform="translate(109.20,271.55) scale(0.830,1)" text-anchor="middle" font-size="10.40" letter-spacing="-0.4" >2</text>
<text transform="translate(136.50,271.55) scale(0.830,1)" text-anchor="middle" font-size="10.40" letter-spacing="-0.4" >2.5</text>
<text transform="translate(163.80,271.55) scale(0.830,1)" text-anchor="middle" font-size="10.40" letter-spacing="-0.4" >3</text>
<text transform="translate(191.10,271.55) scale(0.830,1)" text-anchor="middle" font-size="10.40" letter-spacing="-0.4" >3.5</text>
<text transform="translate(218.40,271.55) scale(0.830,1)" text-anchor="middle" font-size="10.40" letter-spacing="-0.4" >4</text>
<text transform="translate(245.70,271.55) scale(0.830,1)" text-anchor="middle" font-size="10.40" letter-spacing="-0.4" >4.5</text>
<text transform="translate(273.00,271.55) scale(0.830,1)" text-anchor="middle" font-size="10.40" letter-spacing="-0.4" >5</text>
<text transform="translate(-4.30,261.20) scale(0.830,1)" text-anchor="end" font-size="10.40" letter-spacing="-0.4" >-8</text>
<text transform="translate(-4.30,229.16) scale(0.830,1)" text-anchor="end" font-size="10.40" letter-spacing="-0.4" >-6</text>
<text transform="translate(-4.30,197.13) scale(0.830,1)" text-anchor="end" font-size="10.40" letter-spacing="-0.4" >-4</text>
<text transform="translate(-4.30,165.09) scale(0.830,1)" text-anchor="end" font-size="10.40" letter-spacing="-0.4" >-2</text>
<text transform="translate(-4.30,133.05) scale(0.830,1)" text-anchor="end" font-size="10.40" letter-spacing="-0.4" >0</text>
<text transform="translate(-4.30,101.01) scale(0.830,1)" text-anchor="end" font-size="10.40" letter-spacing="-0.4" >2</text>
<text transform="translate(-4.30,68.97) scale(0.830,1)" text-anchor="end" font-size="10.40" letter-spacing="-0.4" >4</text>
<text transform="translate(-4.30,36.94) scale(0.830,1)" text-anchor="end" font-size="10.40" letter-spacing="-0.4" >6</text>
<text transform="translate(-4.30,4.90) scale(0.830,1)" text-anchor="end" font-size="10.40" letter-spacing="-0.4" >8</text>
<text transform="translate(136.70,285.90) scale(0.830,1)" text-anchor="middle" font-size="11.30" letter-spacing="-0.4" >x</text>
<text transform="translate(-19.27,133.60) scale(1.0647,0.9646) rotate(-90) scale(1.200,1)" text-anchor="start" font-size="7.70" font-style="italic">&#967;</text>
<text transform="translate(-15.33,126.94) scale(1.0647,0.9646) rotate(-90) scale(1.120,1)" text-anchor="start" font-size="7.60">x</text>
<rect x="217.20" y="7.40" width="49.10" height="40.10" fill="#fff" stroke="#787878" stroke-width="1"/>
<line x1="220.10" y1="15.10" x2="245.10" y2="15.10" stroke="#000000" stroke-width="2.0"/>
<polygon points="232.30,10.70 231.18,12.90 228.95,12.90 230.06,15.10 228.95,17.30 231.18,17.30 232.30,19.50 233.42,17.30 235.65,17.30 234.54,15.10 235.65,12.90 233.42,12.90" fill="#000" stroke="#000" stroke-width="0.5" stroke-linejoin="round"/>
<g transform="translate(246.70,19.10) scale(0.830,1)" font-size="9.50" fill="#262626"><text x="0.00" letter-spacing="-0.4">t=0.</text><path transform="translate(14.51,0) scale(0.00464,-0.00464)" d="M515 0V1237L197 1010V1180L530 1409H696V0Z"/></g>
<line x1="220.10" y1="27.65" x2="225.80" y2="27.65" stroke="#ff0000" stroke-width="2.0"/>
<line x1="227.80" y1="27.65" x2="229.60" y2="27.65" stroke="#ff0000" stroke-width="2.0"/>
<line x1="232.30" y1="27.65" x2="240.30" y2="27.65" stroke="#ff0000" stroke-width="2.0"/>
<line x1="241.00" y1="27.65" x2="243.20" y2="27.65" stroke="#ff0000" stroke-width="2.0"/>
<line x1="243.80" y1="27.65" x2="245.10" y2="27.65" stroke="#ff0000" stroke-width="2.0"/>
<circle cx="232.30" cy="27.65" r="2.70" fill="none" stroke="#ff0000" stroke-width="1.75"/>
<text transform="translate(246.70,31.65) scale(0.830,1)" text-anchor="start" font-size="9.50" letter-spacing="-0.4" fill="#262626">t=0.3</text>
<line x1="220.10" y1="40.20" x2="226.10" y2="40.20" stroke="#0000ff" stroke-width="2.0"/>
<line x1="228.50" y1="40.20" x2="230.00" y2="40.20" stroke="#0000ff" stroke-width="2.0"/>
<line x1="232.30" y1="40.20" x2="238.40" y2="40.20" stroke="#0000ff" stroke-width="2.0"/>
<line x1="243.70" y1="40.20" x2="245.50" y2="40.20" stroke="#0000ff" stroke-width="2.0"/>
<polygon points="232.30,36.10 234.75,40.20 232.30,44.30 229.85,40.20" fill="none" stroke="#0000ff" stroke-width="1.7" stroke-linejoin="miter"/>
<text transform="translate(246.70,44.20) scale(0.830,1)" text-anchor="start" font-size="9.50" letter-spacing="-0.4" fill="#262626">t=0.5</text>
</g>
<g transform="translate(33.70,696.60) scale(1.0234,1.0749)">
<g stroke="#787878" stroke-width="1" fill="none">
<rect x="0" y="0" width="273.00" height="256.30"/>
<path d="M27.30 256.30v-3.00M27.30 0.00v3.00M54.60 256.30v-3.00M54.60 0.00v3.00M81.90 256.30v-3.00M81.90 0.00v3.00M109.20 256.30v-3.00M109.20 0.00v3.00M136.50 256.30v-3.00M136.50 0.00v3.00M163.80 256.30v-3.00M163.80 0.00v3.00M191.10 256.30v-3.00M191.10 0.00v3.00M218.40 256.30v-3.00M218.40 0.00v3.00M245.70 256.30v-3.00M245.70 0.00v3.00M0.00 219.69h3.00M273.00 219.69h-3.00M0.00 183.07h3.00M273.00 183.07h-3.00M0.00 146.46h3.00M273.00 146.46h-3.00M0.00 109.84h3.00M273.00 109.84h-3.00M0.00 73.23h3.00M273.00 73.23h-3.00M0.00 36.61h3.00M273.00 36.61h-3.00"/>
</g>
<clipPath id="c4"><rect x="0" y="-1" width="274.00" height="258.30"/></clipPath>
<g clip-path="url(#c4)" fill="none" stroke-width="2.0">
<polyline points="0.0,187.8 1.1,189.2 2.2,190.5 3.3,191.8 4.4,193.1 5.5,194.3 6.6,195.6 7.6,196.8 8.7,198.0 9.8,199.1 10.9,200.2 12.0,201.4 13.1,202.4 14.2,203.5 15.3,204.6 16.4,205.6 17.5,206.6 18.6,207.6 19.7,208.5 20.7,209.5 21.8,210.4 22.9,211.3 24.0,212.2 25.1,213.1 26.2,213.9 27.3,214.8 28.4,215.6 29.5,216.4 30.6,217.2 31.7,218.0 32.8,218.7 33.9,219.5 34.9,220.2 36.0,220.9 37.1,221.6 38.2,222.3 39.3,223.0 40.4,223.6 41.5,224.3 42.6,224.9 43.7,225.5 44.8,226.1 45.9,226.7 47.0,227.3 48.0,227.9 49.1,228.5 50.2,229.0 51.3,229.6 52.4,230.1 53.5,230.6 54.6,231.1 55.7,231.6 56.8,232.1 57.9,232.6 59.0,233.0 60.1,233.5 61.2,234.0 62.2,234.4 63.3,234.8 64.4,235.3 65.5,235.7 66.6,236.1 67.7,236.5 68.8,236.9 69.9,237.3 71.0,237.6 72.1,238.0 73.2,238.4 74.3,238.7 75.3,239.1 76.4,239.4 77.5,239.8 78.6,240.1 79.7,240.4 80.8,240.7 81.9,241.0 83.0,241.3 84.1,241.6 85.2,241.9 86.3,242.2 87.4,242.5 88.5,242.8 89.5,243.0 90.6,243.3 91.7,243.5 92.8,243.8 93.9,244.0 95.0,244.3 96.1,244.5 97.2,244.8 98.3,245.0 99.4,245.2 100.5,245.4 101.6,245.6 102.6,245.9 103.7,246.1 104.8,246.3 105.9,246.5 107.0,246.7 108.1,246.8 109.2,247.0 110.3,247.2 111.4,247.4 112.5,247.6 113.6,247.7 114.7,247.9 115.8,248.1 116.8,248.2 117.9,248.4 119.0,248.6 120.1,248.7 121.2,248.9 122.3,249.0 123.4,249.2 124.5,249.3 125.6,249.4 126.7,249.6 127.8,249.7 128.9,249.8 129.9,250.0 131.0,250.1 132.1,250.2 133.2,250.3 134.3,250.5 135.4,250.6 136.5,250.7 137.6,250.8 138.7,250.9 139.8,251.0 140.9,251.1 142.0,251.2 143.1,251.3 144.1,251.4 145.2,251.5 146.3,251.6 147.4,251.7 148.5,251.8 149.6,251.9 150.7,252.0 151.8,252.1 152.9,252.1 154.0,252.2 155.1,252.3 156.2,252.4 157.2,252.5 158.3,252.5 159.4,252.6 160.5,252.7 161.6,252.8 162.7,252.8 163.8,252.9 164.9,253.0 166.0,253.0 167.1,253.1 168.2,253.2 169.3,253.2 170.4,253.3 171.4,253.3 172.5,253.4 173.6,253.5 174.7,253.5 175.8,253.6 176.9,253.6 178.0,253.7 179.1,253.7 180.2,253.8 181.3,253.8 182.4,253.9 183.5,253.9 184.5,254.0 185.6,254.0 186.7,254.1 187.8,254.1 188.9,254.1 190.0,254.2 191.1,254.2 192.2,254.3 193.3,254.3 194.4,254.4 195.5,254.4 196.6,254.4 197.7,254.5 198.7,254.5 199.8,254.5 200.9,254.6 202.0,254.6 203.1,254.6 204.2,254.7 205.3,254.7 206.4,254.7 207.5,254.8 208.6,254.8 209.7,254.8 210.8,254.9 211.8,254.9 212.9,254.9 214.0,254.9 215.1,255.0 216.2,255.0 217.3,255.0 218.4,255.0 219.5,255.1 220.6,255.1 221.7,255.1 222.8,255.1 223.9,255.2 225.0,255.2 226.0,255.2 227.1,255.2 228.2,255.3 229.3,255.3 230.4,255.3 231.5,255.3 232.6,255.3 233.7,255.4 234.8,255.4 235.9,255.4 237.0,255.4 238.1,255.4 239.1,255.4 240.2,255.5 241.3,255.5 242.4,255.5 243.5,255.5 244.6,255.5 245.7,255.5 246.8,255.6 247.9,255.6 249.0,255.6 250.1,255.6 251.2,255.6 252.3,255.6 253.3,255.6 254.4,255.7 255.5,255.7 256.6,255.7 257.7,255.7 258.8,255.7 259.9,255.7 261.0,255.7 262.1,255.7 263.2,255.7 264.3,255.8 265.4,255.8 266.4,255.8 267.5,255.8 268.6,255.8 269.7,255.8 270.8,255.8 271.9,255.8 273.0,255.8" stroke="#000000"/>
<polyline points="0.0,130.7 1.1,133.2 2.2,135.6 3.3,138.0 4.4,140.4 5.5,142.7 6.6,144.9 7.6,147.1 8.7,149.3 9.8,151.4 10.9,153.5 12.0,155.5 13.1,157.5 14.2,159.5 15.3,161.4 16.4,163.3 17.5,165.1 18.6,166.9 19.7,168.7 20.7,170.4 21.8,172.1 22.9,173.8 24.0,175.4 25.1,177.0 26.2,178.6 27.3,180.1 28.4,181.6 29.5,183.1 30.6,184.6 31.7,186.0 32.8,187.4 33.9,188.7 34.9,190.1 36.0,191.4 37.1,192.7 38.2,193.9 39.3,195.2 40.4,196.4 41.5,197.6 42.6,198.7 43.7,199.9 44.8,201.0 45.9,202.1 47.0,203.2 48.0,204.2 49.1,205.2 50.2,206.3 51.3,207.2 52.4,208.2 53.5,209.2 54.6,210.1 55.7,211.0 56.8,211.9 57.9,212.8 59.0,213.7 60.1,214.5 61.2,215.3 62.2,216.1 63.3,216.9 64.4,217.7 65.5,218.5 66.6,219.2 67.7,220.0 68.8,220.7 69.9,221.4 71.0,222.1 72.1,222.8 73.2,223.4 74.3,224.1 75.3,224.7 76.4,225.3 77.5,225.9 78.6,226.5 79.7,227.1 80.8,227.7 81.9,228.3 83.0,228.8 84.1,229.4 85.2,229.9 86.3,230.4 87.4,230.9 88.5,231.4 89.5,231.9 90.6,232.4 91.7,232.9 92.8,233.4 93.9,233.8 95.0,234.3 96.1,234.7 97.2,235.1 98.3,235.5 99.4,236.0 100.5,236.4 101.6,236.7 102.6,237.1 103.7,237.5 104.8,237.9 105.9,238.3 107.0,238.6 108.1,239.0 109.2,239.3 110.3,239.6 111.4,240.0 112.5,240.3 113.6,240.6 114.7,240.9 115.8,241.2 116.8,241.5 117.9,241.8 119.0,242.1 120.1,242.4 121.2,242.7 122.3,242.9 123.4,243.2 124.5,243.5 125.6,243.7 126.7,244.0 127.8,244.2 128.9,244.4 129.9,244.7 131.0,244.9 132.1,245.1 133.2,245.4 134.3,245.6 135.4,245.8 136.5,246.0 137.6,246.2 138.7,246.4 139.8,246.6 140.9,246.8 142.0,247.0 143.1,247.2 144.1,247.3 145.2,247.5 146.3,247.7 147.4,247.9 148.5,248.0 149.6,248.2 150.7,248.4 151.8,248.5 152.9,248.7 154.0,248.8 155.1,249.0 156.2,249.1 157.2,249.3 158.3,249.4 159.4,249.5 160.5,249.7 161.6,249.8 162.7,249.9 163.8,250.0 164.9,250.2 166.0,250.3 167.1,250.4 168.2,250.5 169.3,250.6 170.4,250.8 171.4,250.9 172.5,251.0 173.6,251.1 174.7,251.2 175.8,251.3 176.9,251.4 178.0,251.5 179.1,251.6 180.2,251.7 181.3,251.8 182.4,251.8 183.5,251.9 184.5,252.0 185.6,252.1 186.7,252.2 187.8,252.3 188.9,252.4 190.0,252.4 191.1,252.5 192.2,252.6 193.3,252.7 194.4,252.7 195.5,252.8 196.6,252.9 197.7,252.9 198.7,253.0 199.8,253.1 200.9,253.1 202.0,253.2 203.1,253.3 204.2,253.3 205.3,253.4 206.4,253.4 207.5,253.5 208.6,253.5 209.7,253.6 210.8,253.7 211.8,253.7 212.9,253.8 214.0,253.8 215.1,253.9 216.2,253.9 217.3,254.0 218.4,254.0 219.5,254.0 220.6,254.1 221.7,254.1 222.8,254.2 223.9,254.2 225.0,254.3 226.0,254.3 227.1,254.3 228.2,254.4 229.3,254.4 230.4,254.5 231.5,254.5 232.6,254.5 233.7,254.6 234.8,254.6 235.9,254.6 237.0,254.7 238.1,254.7 239.1,254.7 240.2,254.8 241.3,254.8 242.4,254.8 243.5,254.8 244.6,254.9 245.7,254.9 246.8,254.9 247.9,255.0 249.0,255.0 250.1,255.0 251.2,255.0 252.3,255.1 253.3,255.1 254.4,255.1 255.5,255.1 256.6,255.2 257.7,255.2 258.8,255.2 259.9,255.2 261.0,255.2 262.1,255.3 263.2,255.3 264.3,255.3 265.4,255.3 266.4,255.3 267.5,255.4 268.6,255.4 269.7,255.4 270.8,255.4 271.9,255.4 273.0,255.5" stroke="#ff0000" stroke-dasharray="7.9 1.0 5.0 1.0"/>
<polyline points="0.0,26.5 1.1,31.1 2.2,35.7 3.3,40.1 4.4,44.4 5.5,48.7 6.6,52.8 7.6,56.9 8.7,60.9 9.8,64.8 10.9,68.6 12.0,72.4 13.1,76.1 14.2,79.7 15.3,83.2 16.4,86.7 17.5,90.1 18.6,93.4 19.7,96.7 20.7,99.9 21.8,103.0 22.9,106.1 24.0,109.1 25.1,112.1 26.2,114.9 27.3,117.8 28.4,120.6 29.5,123.3 30.6,125.9 31.7,128.6 32.8,131.1 33.9,133.6 34.9,136.1 36.0,138.5 37.1,140.8 38.2,143.2 39.3,145.4 40.4,147.6 41.5,149.8 42.6,152.0 43.7,154.1 44.8,156.1 45.9,158.1 47.0,160.1 48.0,162.0 49.1,163.9 50.2,165.7 51.3,167.6 52.4,169.3 53.5,171.1 54.6,172.8 55.7,174.5 56.8,176.1 57.9,177.7 59.0,179.3 60.1,180.8 61.2,182.3 62.2,183.8 63.3,185.3 64.4,186.7 65.5,188.1 66.6,189.5 67.7,190.8 68.8,192.1 69.9,193.4 71.0,194.7 72.1,195.9 73.2,197.1 74.3,198.3 75.3,199.4 76.4,200.6 77.5,201.7 78.6,202.8 79.7,203.9 80.8,204.9 81.9,205.9 83.0,207.0 84.1,207.9 85.2,208.9 86.3,209.9 87.4,210.8 88.5,211.7 89.5,212.6 90.6,213.5 91.7,214.3 92.8,215.2 93.9,216.0 95.0,216.8 96.1,217.6 97.2,218.4 98.3,219.1 99.4,219.9 100.5,220.6 101.6,221.3 102.6,222.0 103.7,222.7 104.8,223.4 105.9,224.0 107.0,224.7 108.1,225.3 109.2,225.9 110.3,226.6 111.4,227.1 112.5,227.7 113.6,228.3 114.7,228.9 115.8,229.4 116.8,230.0 117.9,230.5 119.0,231.0 120.1,231.5 121.2,232.0 122.3,232.5 123.4,233.0 124.5,233.4 125.6,233.9 126.7,234.3 127.8,234.8 128.9,235.2 129.9,235.6 131.0,236.0 132.1,236.5 133.2,236.9 134.3,237.2 135.4,237.6 136.5,238.0 137.6,238.4 138.7,238.7 139.8,239.1 140.9,239.4 142.0,239.8 143.1,240.1 144.1,240.4 145.2,240.7 146.3,241.0 147.4,241.4 148.5,241.7 149.6,241.9 150.7,242.2 151.8,242.5 152.9,242.8 154.0,243.1 155.1,243.3 156.2,243.6 157.2,243.8 158.3,244.1 159.4,244.3 160.5,244.6 161.6,244.8 162.7,245.0 163.8,245.3 164.9,245.5 166.0,245.7 167.1,245.9 168.2,246.1 169.3,246.3 170.4,246.5 171.4,246.7 172.5,246.9 173.6,247.1 174.7,247.3 175.8,247.5 176.9,247.6 178.0,247.8 179.1,248.0 180.2,248.2 181.3,248.3 182.4,248.5 183.5,248.6 184.5,248.8 185.6,248.9 186.7,249.1 187.8,249.2 188.9,249.4 190.0,249.5 191.1,249.6 192.2,249.8 193.3,249.9 194.4,250.0 195.5,250.2 196.6,250.3 197.7,250.4 198.7,250.5 199.8,250.6 200.9,250.8 202.0,250.9 203.1,251.0 204.2,251.1 205.3,251.2 206.4,251.3 207.5,251.4 208.6,251.5 209.7,251.6 210.8,251.7 211.8,251.8 212.9,251.9 214.0,252.0 215.1,252.0 216.2,252.1 217.3,252.2 218.4,252.3 219.5,252.4 220.6,252.4 221.7,252.5 222.8,252.6 223.9,252.7 225.0,252.7 226.0,252.8 227.1,252.9 228.2,253.0 229.3,253.0 230.4,253.1 231.5,253.2 232.6,253.2 233.7,253.3 234.8,253.3 235.9,253.4 237.0,253.5 238.1,253.5 239.1,253.6 240.2,253.6 241.3,253.7 242.4,253.7 243.5,253.8 244.6,253.8 245.7,253.9 246.8,253.9 247.9,254.0 249.0,254.0 250.1,254.1 251.2,254.1 252.3,254.2 253.3,254.2 254.4,254.2 255.5,254.3 256.6,254.3 257.7,254.4 258.8,254.4 259.9,254.4 261.0,254.5 262.1,254.5 263.2,254.6 264.3,254.6 265.4,254.6 266.4,254.7 267.5,254.7 268.6,254.7 269.7,254.8 270.8,254.8 271.9,254.8 273.0,254.8" stroke="#0000ff" stroke-dasharray="8.3 5.4"/>
</g>
<polygon points="24.82,208.44 23.70,210.64 21.46,210.64 22.58,212.84 21.46,215.04 23.70,215.04 24.82,217.24 25.94,215.04 28.17,215.04 27.05,212.84 28.17,210.64 25.94,210.64" fill="#000" stroke="#000" stroke-width="0.5" stroke-linejoin="round"/>
<polygon points="79.97,236.07 78.85,238.27 76.62,238.27 77.73,240.47 76.62,242.67 78.85,242.67 79.97,244.87 81.09,242.67 83.32,242.67 82.21,240.47 83.32,238.27 81.09,238.27" fill="#000" stroke="#000" stroke-width="0.5" stroke-linejoin="round"/>
<polygon points="135.12,246.14 134.00,248.34 131.77,248.34 132.89,250.54 131.77,252.74 134.00,252.74 135.12,254.94 136.24,252.74 138.47,252.74 137.36,250.54 138.47,248.34 136.24,248.34" fill="#000" stroke="#000" stroke-width="0.5" stroke-linejoin="round"/>
<polygon points="190.27,249.80 189.15,252.00 186.92,252.00 188.04,254.20 186.92,256.40 189.15,256.40 190.27,258.60 191.39,256.40 193.63,256.40 192.51,254.20 193.63,252.00 191.39,252.00" fill="#000" stroke="#000" stroke-width="0.5" stroke-linejoin="round"/>
<polygon points="245.42,251.14 244.31,253.34 242.07,253.34 243.19,255.54 242.07,257.74 244.31,257.74 245.42,259.94 246.54,257.74 248.78,257.74 247.66,255.54 248.78,253.34 246.54,253.34" fill="#000" stroke="#000" stroke-width="0.5" stroke-linejoin="round"/>
<circle cx="24.82" cy="176.59" r="2.70" fill="none" stroke="#ff0000" stroke-width="1.75"/>
<circle cx="79.97" cy="227.27" r="2.70" fill="none" stroke="#ff0000" stroke-width="1.75"/>
<circle cx="135.12" cy="245.73" r="2.70" fill="none" stroke="#ff0000" stroke-width="1.75"/>
<circle cx="190.27" cy="252.45" r="2.70" fill="none" stroke="#ff0000" stroke-width="1.75"/>
<circle cx="245.42" cy="254.90" r="2.70" fill="none" stroke="#ff0000" stroke-width="1.75"/>
<polygon points="24.82,107.16 27.27,111.26 24.82,115.36 22.37,111.26" fill="none" stroke="#0000ff" stroke-width="1.7" stroke-linejoin="miter"/>
<polygon points="79.97,200.02 82.42,204.12 79.97,208.22 77.52,204.12" fill="none" stroke="#0000ff" stroke-width="1.7" stroke-linejoin="miter"/>
<polygon points="135.12,233.42 137.57,237.52 135.12,241.62 132.67,237.52" fill="none" stroke="#0000ff" stroke-width="1.7" stroke-linejoin="miter"/>
<polygon points="190.27,245.44 192.72,249.54 190.27,253.64 187.82,249.54" fill="none" stroke="#0000ff" stroke-width="1.7" stroke-linejoin="miter"/>
<polygon points="245.42,249.77 247.87,253.87 245.42,257.97 242.97,253.87" fill="none" stroke="#0000ff" stroke-width="1.7" stroke-linejoin="miter"/>
<text transform="translate(0.00,271.55) scale(0.830,1)" text-anchor="middle" font-size="10.40" letter-spacing="-0.4" >0</text>
<text transform="translate(27.30,271.55) scale(0.830,1)" text-anchor="middle" font-size="10.40" letter-spacing="-0.4" >0.5</text>
<g transform="translate(54.60,271.55) scale(0.830,1)" font-size="10.40" ><path transform="translate(-2.69,0) scale(0.00508,-0.00508)" d="M515 0V1237L197 1010V1180L530 1409H696V0Z"/></g>
<g transform="translate(81.90,271.55) scale(0.830,1)" font-size="10.40" ><path transform="translate(-6.63,0) scale(0.00508,-0.00508)" d="M515 0V1237L197 1010V1180L530 1409H696V0Z"/><text x="-1.24" letter-spacing="-0.4">.5</text></g>
<text transform="translate(109.20,271.55) scale(0.830,1)" text-anchor="middle" font-size="10.40" letter-spacing="-0.4" >2</text>
<text transform="translate(136.50,271.55) scale(0.830,1)" text-anchor="middle" font-size="10.40" letter-spacing="-0.4" >2.5</text>
<text transform="translate(163.80,271.55) scale(0.830,1)" text-anchor="middle" font-size="10.40" letter-spacing="-0.4" >3</text>
<text transform="translate(191.10,271.55) scale(0.830,1)" text-anchor="middle" font-size="10.40" letter-spacing="-0.4" >3.5</text>
<text transform="translate(218.40,271.55) scale(0.830,1)" text-anchor="middle" font-size="10.40" letter-spacing="-0.4" >4</text>
<text transform="translate(245.70,271.55) scale(0.830,1)" text-anchor="middle" font-size="10.40" letter-spacing="-0.4" >4.5</text>
<text transform="translate(273.00,271.55) scale(0.830,1)" text-anchor="middle" font-size="10.40" letter-spacing="-0.4" >5</text>
<text transform="translate(-4.30,260.25) scale(0.830,1)" text-anchor="end" font-size="10.40" letter-spacing="-0.4" >0</text>
<text transform="translate(-4.30,223.64) scale(0.830,1)" text-anchor="end" font-size="10.40" letter-spacing="-0.4" >2</text>
<text transform="translate(-4.30,187.02) scale(0.830,1)" text-anchor="end" font-size="10.40" letter-spacing="-0.4" >4</text>
<text transform="translate(-4.30,150.41) scale(0.830,1)" text-anchor="end" font-size="10.40" letter-spacing="-0.4" >6</text>
<text transform="translate(-4.30,113.79) scale(0.830,1)" text-anchor="end" font-size="10.40" letter-spacing="-0.4" >8</text>
<g transform="translate(-4.30,77.18) scale(0.830,1)" font-size="10.40" ><path transform="translate(-10.77,0) scale(0.00508,-0.00508)" d="M515 0V1237L197 1010V1180L530 1409H696V0Z"/><text x="-5.38" letter-spacing="-0.4">0</text></g>
<g transform="translate(-4.30,40.56) scale(0.830,1)" font-size="10.40" ><path transform="translate(-10.77,0) scale(0.00508,-0.00508)" d="M515 0V1237L197 1010V1180L530 1409H696V0Z"/><text x="-5.38" letter-spacing="-0.4">2</text></g>
<g transform="translate(-4.30,3.95) scale(0.830,1)" font-size="10.40" ><path transform="translate(-10.77,0) scale(0.00508,-0.00508)" d="M515 0V1237L197 1010V1180L530 1409H696V0Z"/><text x="-5.38" letter-spacing="-0.4">4</text></g>
<text transform="translate(136.70,285.90) scale(0.830,1)" text-anchor="middle" font-size="11.30" letter-spacing="-0.4" >x</text>
<text transform="translate(-18.27,128.20) scale(0.9771,0.9303) rotate(-90) scale(1.000,1)" text-anchor="middle" font-size="9.70" font-style="italic">&#952;</text>
<rect x="217.20" y="7.40" width="49.10" height="40.10" fill="#fff" stroke="#787878" stroke-width="1"/>
<line x1="220.10" y1="15.10" x2="245.10" y2="15.10" stroke="#000000" stroke-width="2.0"/>
<polygon points="232.30,10.70 231.18,12.90 228.95,12.90 230.06,15.10 228.95,17.30 231.18,17.30 232.30,19.50 233.42,17.30 235.65,17.30 234.54,15.10 235.65,12.90 233.42,12.90" fill="#000" stroke="#000" stroke-width="0.5" stroke-linejoin="round"/>
<g transform="translate(246.70,19.10) scale(0.830,1)" font-size="9.50" fill="#262626"><text x="0.00" letter-spacing="-0.4">t=0.</text><path transform="translate(14.51,0) scale(0.00464,-0.00464)" d="M515 0V1237L197 1010V1180L530 1409H696V0Z"/></g>
<line x1="220.10" y1="27.65" x2="225.80" y2="27.65" stroke="#ff0000" stroke-width="2.0"/>
<line x1="227.80" y1="27.65" x2="229.60" y2="27.65" stroke="#ff0000" stroke-width="2.0"/>
<line x1="232.30" y1="27.65" x2="240.30" y2="27.65" stroke="#ff0000" stroke-width="2.0"/>
<line x1="241.00" y1="27.65" x2="243.20" y2="27.65" stroke="#ff0000" stroke-width="2.0"/>
<line x1="243.80" y1="27.65" x2="245.10" y2="27.65" stroke="#ff0000" stroke-width="2.0"/>
<circle cx="232.30" cy="27.65" r="2.70" fill="none" stroke="#ff0000" stroke-width="1.75"/>
<text transform="translate(246.70,31.65) scale(0.830,1)" text-anchor="start" font-size="9.50" letter-spacing="-0.4" fill="#262626">t=0.3</text>
<line x1="220.10" y1="40.20" x2="226.10" y2="40.20" stroke="#0000ff" stroke-width="2.0"/>
<line x1="228.50" y1="40.20" x2="230.00" y2="40.20" stroke="#0000ff" stroke-width="2.0"/>
<line x1="232.30" y1="40.20" x2="238.40" y2="40.20" stroke="#0000ff" stroke-width="2.0"/>
<line x1="243.70" y1="40.20" x2="245.50" y2="40.20" stroke="#0000ff" stroke-width="2.0"/>
<polygon points="232.30,36.10 234.75,40.20 232.30,44.30 229.85,40.20" fill="none" stroke="#0000ff" stroke-width="1.7" stroke-linejoin="miter"/>
<text transform="translate(246.70,44.20) scale(0.830,1)" text-anchor="start" font-size="9.50" letter-spacing="-0.4" fill="#262626">t=0.5</text>
</g>
<g transform="translate(395.30,698.30) scale(1.0275,1.0683)">
<g stroke="#787878" stroke-width="1" fill="none">
<rect x="0" y="0" width="273.00" height="256.30"/>
<path d="M27.30 256.30v-3.00M27.30 0.00v3.00M54.60 256.30v-3.00M54.60 0.00v3.00M81.90 256.30v-3.00M81.90 0.00v3.00M109.20 256.30v-3.00M109.20 0.00v3.00M136.50 256.30v-3.00M136.50 0.00v3.00M163.80 256.30v-3.00M163.80 0.00v3.00M191.10 256.30v-3.00M191.10 0.00v3.00M218.40 256.30v-3.00M218.40 0.00v3.00M245.70 256.30v-3.00M245.70 0.00v3.00M0.00 230.67h3.00M273.00 230.67h-3.00M0.00 205.04h3.00M273.00 205.04h-3.00M0.00 179.41h3.00M273.00 179.41h-3.00M0.00 153.78h3.00M273.00 153.78h-3.00M0.00 128.15h3.00M273.00 128.15h-3.00M0.00 102.52h3.00M273.00 102.52h-3.00M0.00 76.89h3.00M273.00 76.89h-3.00M0.00 51.26h3.00M273.00 51.26h-3.00M0.00 25.63h3.00M273.00 25.63h-3.00"/>
</g>
<clipPath id="c5"><rect x="0" y="-1" width="274.00" height="258.30"/></clipPath>
<g clip-path="url(#c5)" fill="none" stroke-width="2.0">
<polyline points="0.0,128.2 1.1,130.0 2.2,131.8 3.3,133.6 4.4,135.4 5.5,137.2 6.6,139.0 7.6,140.9 8.7,142.7 9.8,144.4 10.9,146.2 12.0,148.0 13.1,149.8 14.2,151.5 15.3,153.2 16.4,154.9 17.5,156.6 18.6,158.3 19.7,159.9 20.7,161.6 21.8,163.2 22.9,164.7 24.0,166.3 25.1,167.8 26.2,169.3 27.3,170.7 28.4,172.1 29.5,173.5 30.6,174.9 31.7,176.2 32.8,177.5 33.9,178.7 34.9,179.9 36.0,181.0 37.1,182.1 38.2,183.2 39.3,184.2 40.4,185.2 41.5,186.2 42.6,187.0 43.7,187.9 44.8,188.7 45.9,189.4 47.0,190.1 48.0,190.8 49.1,191.4 50.2,191.9 51.3,192.4 52.4,192.9 53.5,193.2 54.6,193.6 55.7,193.9 56.8,194.1 57.9,194.3 59.0,194.4 60.1,194.5 61.2,194.5 62.2,194.5 63.3,194.4 64.4,194.3 65.5,194.1 66.6,193.9 67.7,193.6 68.8,193.2 69.9,192.8 71.0,192.4 72.1,191.9 73.2,191.3 74.3,190.7 75.3,190.1 76.4,189.4 77.5,188.6 78.6,187.8 79.7,187.0 80.8,186.1 81.9,185.1 83.0,184.1 84.1,183.1 85.2,182.0 86.3,180.9 87.4,179.8 88.5,178.6 89.5,177.3 90.6,176.0 91.7,174.7 92.8,173.4 93.9,172.0 95.0,170.5 96.1,169.1 97.2,167.6 98.3,166.0 99.4,164.5 100.5,162.9 101.6,161.3 102.6,159.6 103.7,158.0 104.8,156.3 105.9,154.6 107.0,152.8 108.1,151.1 109.2,149.3 110.3,147.5 111.4,145.7 112.5,143.9 113.6,142.1 114.7,140.2 115.8,138.4 116.8,136.5 117.9,134.7 119.0,132.8 120.1,130.9 121.2,129.0 122.3,127.2 123.4,125.3 124.5,123.4 125.6,121.5 126.7,119.7 127.8,117.8 128.9,116.0 129.9,114.1 131.0,112.3 132.1,110.5 133.2,108.7 134.3,106.9 135.4,105.1 136.5,103.3 137.6,101.6 138.7,99.9 139.8,98.2 140.9,96.6 142.0,94.9 143.1,93.3 144.1,91.7 145.2,90.2 146.3,88.6 147.4,87.1 148.5,85.7 149.6,84.3 150.7,82.9 151.8,81.5 152.9,80.2 154.0,78.9 155.1,77.7 156.2,76.5 157.2,75.3 158.3,74.2 159.4,73.1 160.5,72.1 161.6,71.1 162.7,70.2 163.8,69.3 164.9,68.4 166.0,67.6 167.1,66.9 168.2,66.2 169.3,65.5 170.4,64.9 171.4,64.4 172.5,63.9 173.6,63.5 174.7,63.1 175.8,62.7 176.9,62.4 178.0,62.2 179.1,62.0 180.2,61.9 181.3,61.8 182.4,61.8 183.5,61.8 184.5,61.9 185.6,62.0 186.7,62.2 187.8,62.4 188.9,62.7 190.0,63.1 191.1,63.5 192.2,63.9 193.3,64.4 194.4,65.0 195.5,65.6 196.6,66.2 197.7,66.9 198.7,67.7 199.8,68.5 200.9,69.3 202.0,70.2 203.1,71.2 204.2,72.1 205.3,73.2 206.4,74.3 207.5,75.4 208.6,76.5 209.7,77.7 210.8,79.0 211.8,80.3 212.9,81.6 214.0,82.9 215.1,84.3 216.2,85.8 217.3,87.2 218.4,88.7 219.5,90.2 220.6,91.8 221.7,93.4 222.8,95.0 223.9,96.6 225.0,98.3 226.0,100.0 227.1,101.7 228.2,103.4 229.3,105.2 230.4,107.0 231.5,108.7 232.6,110.6 233.7,112.4 234.8,114.2 235.9,116.0 237.0,117.9 238.1,119.8 239.1,121.6 240.2,123.5 241.3,125.4 242.4,127.2 243.5,129.1 244.6,131.0 245.7,132.9 246.8,134.8 247.9,136.6 249.0,138.5 250.1,140.3 251.2,142.2 252.3,144.0 253.3,145.8 254.4,147.6 255.5,149.4 256.6,151.2 257.7,152.9 258.8,154.7 259.9,156.4 261.0,158.1 262.1,159.7 263.2,161.4 264.3,163.0 265.4,164.6 266.4,166.1 267.5,167.6 268.6,169.1 269.7,170.6 270.8,172.0 271.9,173.4 273.0,174.8" stroke="#000000"/>
<polyline points="0.0,128.2 1.1,130.4 2.2,132.7 3.3,135.0 4.4,137.3 5.5,139.5 6.6,141.8 7.6,144.1 8.7,146.3 9.8,148.6 10.9,150.8 12.0,153.1 13.1,155.3 14.2,157.5 15.3,159.6 16.4,161.8 17.5,163.9 18.6,166.0 19.7,168.0 20.7,170.1 21.8,172.1 22.9,174.1 24.0,176.0 25.1,177.9 26.2,179.8 27.3,181.6 28.4,183.4 29.5,185.1 30.6,186.8 31.7,188.4 32.8,190.0 33.9,191.6 34.9,193.1 36.0,194.5 37.1,195.9 38.2,197.2 39.3,198.5 40.4,199.8 41.5,200.9 42.6,202.1 43.7,203.1 44.8,204.1 45.9,205.0 47.0,205.9 48.0,206.7 49.1,207.5 50.2,208.2 51.3,208.8 52.4,209.3 53.5,209.8 54.6,210.3 55.7,210.6 56.8,210.9 57.9,211.2 59.0,211.3 60.1,211.4 61.2,211.4 62.2,211.4 63.3,211.3 64.4,211.1 65.5,210.9 66.6,210.6 67.7,210.2 68.8,209.8 69.9,209.3 71.0,208.7 72.1,208.1 73.2,207.4 74.3,206.7 75.3,205.8 76.4,205.0 77.5,204.0 78.6,203.0 79.7,202.0 80.8,200.8 81.9,199.6 83.0,198.4 84.1,197.1 85.2,195.8 86.3,194.4 87.4,192.9 88.5,191.4 89.5,189.8 90.6,188.2 91.7,186.6 92.8,184.9 93.9,183.1 95.0,181.3 96.1,179.5 97.2,177.6 98.3,175.7 99.4,173.7 100.5,171.8 101.6,169.7 102.6,167.7 103.7,165.6 104.8,163.5 105.9,161.3 107.0,159.1 108.1,156.9 109.2,154.7 110.3,152.5 111.4,150.2 112.5,147.9 113.6,145.6 114.7,143.3 115.8,141.0 116.8,138.7 117.9,136.3 119.0,134.0 120.1,131.6 121.2,129.3 122.3,126.9 123.4,124.5 124.5,122.2 125.6,119.8 126.7,117.5 127.8,115.2 128.9,112.8 129.9,110.5 131.0,108.2 132.1,106.0 133.2,103.7 134.3,101.4 135.4,99.2 136.5,97.0 137.6,94.9 138.7,92.7 139.8,90.6 140.9,88.5 142.0,86.4 143.1,84.4 144.1,82.4 145.2,80.5 146.3,78.6 147.4,76.7 148.5,74.9 149.6,73.1 150.7,71.3 151.8,69.6 152.9,68.0 154.0,66.4 155.1,64.8 156.2,63.3 157.2,61.8 158.3,60.4 159.4,59.1 160.5,57.8 161.6,56.6 162.7,55.4 163.8,54.3 164.9,53.2 166.0,52.2 167.1,51.3 168.2,50.4 169.3,49.6 170.4,48.8 171.4,48.1 172.5,47.5 173.6,47.0 174.7,46.5 175.8,46.0 176.9,45.7 178.0,45.4 179.1,45.1 180.2,45.0 181.3,44.9 182.4,44.9 183.5,44.9 184.5,45.0 185.6,45.2 186.7,45.4 187.8,45.7 188.9,46.1 190.0,46.5 191.1,47.0 192.2,47.6 193.3,48.2 194.4,48.9 195.5,49.6 196.6,50.4 197.7,51.3 198.7,52.3 199.8,53.3 200.9,54.3 202.0,55.5 203.1,56.6 204.2,57.9 205.3,59.2 206.4,60.5 207.5,61.9 208.6,63.4 209.7,64.9 210.8,66.4 211.8,68.0 212.9,69.7 214.0,71.4 215.1,73.2 216.2,74.9 217.3,76.8 218.4,78.7 219.5,80.6 220.6,82.5 221.7,84.5 222.8,86.5 223.9,88.6 225.0,90.7 226.0,92.8 227.1,95.0 228.2,97.1 229.3,99.3 230.4,101.6 231.5,103.8 232.6,106.1 233.7,108.4 234.8,110.6 235.9,113.0 237.0,115.3 238.1,117.6 239.1,120.0 240.2,122.3 241.3,124.7 242.4,127.0 243.5,129.4 244.6,131.7 245.7,134.1 246.8,136.4 247.9,138.8 249.0,141.1 250.1,143.4 251.2,145.7 252.3,148.0 253.3,150.3 254.4,152.6 255.5,154.8 256.6,157.0 257.7,159.2 258.8,161.4 259.9,163.6 261.0,165.7 262.1,167.8 263.2,169.8 264.3,171.9 265.4,173.8 266.4,175.8 267.5,177.7 268.6,179.6 269.7,181.4 270.8,183.2 271.9,185.0 273.0,186.7" stroke="#ff0000" stroke-dasharray="7.9 1.0 5.0 1.0"/>
<polyline points="0.0,128.2 1.1,131.0 2.2,133.8 3.3,136.6 4.4,139.5 5.5,142.3 6.6,145.1 7.6,148.0 8.7,150.8 9.8,153.6 10.9,156.4 12.0,159.1 13.1,161.9 14.2,164.6 15.3,167.3 16.4,169.9 17.5,172.6 18.6,175.2 19.7,177.7 20.7,180.3 21.8,182.8 22.9,185.2 24.0,187.6 25.1,190.0 26.2,192.3 27.3,194.6 28.4,196.8 29.5,198.9 30.6,201.0 31.7,203.1 32.8,205.1 33.9,207.0 34.9,208.8 36.0,210.6 37.1,212.4 38.2,214.0 39.3,215.6 40.4,217.2 41.5,218.6 42.6,220.0 43.7,221.3 44.8,222.6 45.9,223.7 47.0,224.8 48.0,225.8 49.1,226.8 50.2,227.6 51.3,228.4 52.4,229.1 53.5,229.7 54.6,230.2 55.7,230.7 56.8,231.0 57.9,231.3 59.0,231.5 60.1,231.7 61.2,231.7 62.2,231.7 63.3,231.5 64.4,231.3 65.5,231.0 66.6,230.6 67.7,230.2 68.8,229.6 69.9,229.0 71.0,228.3 72.1,227.5 73.2,226.7 74.3,225.7 75.3,224.7 76.4,223.6 77.5,222.5 78.6,221.2 79.7,219.9 80.8,218.5 81.9,217.0 83.0,215.5 84.1,213.9 85.2,212.2 86.3,210.5 87.4,208.6 88.5,206.8 89.5,204.8 90.6,202.8 91.7,200.8 92.8,198.7 93.9,196.5 95.0,194.3 96.1,192.0 97.2,189.6 98.3,187.3 99.4,184.8 100.5,182.4 101.6,179.8 102.6,177.3 103.7,174.7 104.8,172.0 105.9,169.4 107.0,166.7 108.1,163.9 109.2,161.2 110.3,158.4 111.4,155.6 112.5,152.7 113.6,149.9 114.7,147.0 115.8,144.1 116.8,141.2 117.9,138.3 119.0,135.4 120.1,132.5 121.2,129.5 122.3,126.6 123.4,123.7 124.5,120.7 125.6,117.8 126.7,114.9 127.8,112.0 128.9,109.1 129.9,106.3 131.0,103.4 132.1,100.6 133.2,97.7 134.3,95.0 135.4,92.2 136.5,89.5 137.6,86.8 138.7,84.1 139.8,81.5 140.9,78.9 142.0,76.3 143.1,73.8 144.1,71.3 145.2,68.9 146.3,66.5 147.4,64.2 148.5,61.9 149.6,59.7 150.7,57.5 151.8,55.4 152.9,53.3 154.0,51.3 155.1,49.4 156.2,47.5 157.2,45.7 158.3,44.0 159.4,42.3 160.5,40.7 161.6,39.2 162.7,37.7 163.8,36.3 164.9,35.0 166.0,33.8 167.1,32.6 168.2,31.5 169.3,30.5 170.4,29.6 171.4,28.7 172.5,27.9 173.6,27.2 174.7,26.6 175.8,26.1 176.9,25.6 178.0,25.3 179.1,25.0 180.2,24.8 181.3,24.6 182.4,24.6 183.5,24.6 184.5,24.8 185.6,25.0 186.7,25.3 187.8,25.7 188.9,26.1 190.0,26.6 191.1,27.3 192.2,28.0 193.3,28.7 194.4,29.6 195.5,30.5 196.6,31.6 197.7,32.7 198.7,33.8 199.8,35.1 200.9,36.4 202.0,37.8 203.1,39.3 204.2,40.8 205.3,42.4 206.4,44.1 207.5,45.8 208.6,47.6 209.7,49.5 210.8,51.4 211.8,53.4 212.9,55.5 214.0,57.6 215.1,59.8 216.2,62.0 217.3,64.3 218.4,66.6 219.5,69.0 220.6,71.4 221.7,73.9 222.8,76.4 223.9,79.0 225.0,81.6 226.0,84.2 227.1,86.9 228.2,89.6 229.3,92.3 230.4,95.1 231.5,97.9 232.6,100.7 233.7,103.5 234.8,106.4 235.9,109.3 237.0,112.2 238.1,115.1 239.1,118.0 240.2,120.9 241.3,123.8 242.4,126.7 243.5,129.7 244.6,132.6 245.7,135.5 246.8,138.4 247.9,141.4 249.0,144.3 250.1,147.1 251.2,150.0 252.3,152.9 253.3,155.7 254.4,158.5 255.5,161.3 256.6,164.1 257.7,166.8 258.8,169.5 259.9,172.2 261.0,174.8 262.1,177.4 263.2,180.0 264.3,182.5 265.4,185.0 266.4,187.4 267.5,189.8 268.6,192.1 269.7,194.4 270.8,196.6 271.9,198.8 273.0,200.9" stroke="#0000ff" stroke-dasharray="8.3 5.4"/>
</g>
<polygon points="24.82,162.98 23.70,165.18 21.46,165.18 22.58,167.38 21.46,169.58 23.70,169.58 24.82,171.78 25.94,169.58 28.17,169.58 27.05,167.38 28.17,165.18 25.94,165.18" fill="#000" stroke="#000" stroke-width="0.5" stroke-linejoin="round"/>
<polygon points="79.97,182.36 78.85,184.56 76.62,184.56 77.73,186.76 76.62,188.96 78.85,188.96 79.97,191.16 81.09,188.96 83.32,188.96 82.21,186.76 83.32,184.56 81.09,184.56" fill="#000" stroke="#000" stroke-width="0.5" stroke-linejoin="round"/>
<polygon points="135.12,101.16 134.00,103.36 131.77,103.36 132.89,105.56 131.77,107.76 134.00,107.76 135.12,109.96 136.24,107.76 138.47,107.76 137.36,105.56 138.47,103.36 136.24,103.36" fill="#000" stroke="#000" stroke-width="0.5" stroke-linejoin="round"/>
<polygon points="190.27,58.77 189.15,60.97 186.92,60.97 188.04,63.17 186.92,65.37 189.15,65.37 190.27,67.57 191.39,65.37 193.63,65.37 192.51,63.17 193.63,60.97 191.39,60.97" fill="#000" stroke="#000" stroke-width="0.5" stroke-linejoin="round"/>
<polygon points="245.42,128.01 244.31,130.21 242.07,130.21 243.19,132.41 242.07,134.61 244.31,134.61 245.42,136.81 246.54,134.61 248.78,134.61 247.66,132.41 248.78,130.21 246.54,130.21" fill="#000" stroke="#000" stroke-width="0.5" stroke-linejoin="round"/>
<circle cx="24.82" cy="177.38" r="2.70" fill="none" stroke="#ff0000" stroke-width="1.75"/>
<circle cx="79.97" cy="201.70" r="2.70" fill="none" stroke="#ff0000" stroke-width="1.75"/>
<circle cx="135.12" cy="99.81" r="2.70" fill="none" stroke="#ff0000" stroke-width="1.75"/>
<circle cx="190.27" cy="46.61" r="2.70" fill="none" stroke="#ff0000" stroke-width="1.75"/>
<circle cx="245.42" cy="133.49" r="2.70" fill="none" stroke="#ff0000" stroke-width="1.75"/>
<polygon points="24.82,185.24 27.27,189.34 24.82,193.44 22.37,189.34" fill="none" stroke="#0000ff" stroke-width="1.7" stroke-linejoin="miter"/>
<polygon points="79.97,215.47 82.42,219.57 79.97,223.67 77.52,219.57" fill="none" stroke="#0000ff" stroke-width="1.7" stroke-linejoin="miter"/>
<polygon points="135.12,88.82 137.57,92.92 135.12,97.02 132.67,92.92" fill="none" stroke="#0000ff" stroke-width="1.7" stroke-linejoin="miter"/>
<polygon points="190.27,22.69 192.72,26.79 190.27,30.89 187.82,26.79" fill="none" stroke="#0000ff" stroke-width="1.7" stroke-linejoin="miter"/>
<polygon points="245.42,130.69 247.87,134.79 245.42,138.89 242.97,134.79" fill="none" stroke="#0000ff" stroke-width="1.7" stroke-linejoin="miter"/>
<text transform="translate(0.00,271.55) scale(0.830,1)" text-anchor="middle" font-size="10.40" letter-spacing="-0.4" >0</text>
<text transform="translate(27.30,271.55) scale(0.830,1)" text-anchor="middle" font-size="10.40" letter-spacing="-0.4" >0.5</text>
<g transform="translate(54.60,271.55) scale(0.830,1)" font-size="10.40" ><path transform="translate(-2.69,0) scale(0.00508,-0.00508)" d="M515 0V1237L197 1010V1180L530 1409H696V0Z"/></g>
<g transform="translate(81.90,271.55) scale(0.830,1)" font-size="10.40" ><path transform="translate(-6.63,0) scale(0.00508,-0.00508)" d="M515 0V1237L197 1010V1180L530 1409H696V0Z"/><text x="-1.24" letter-spacing="-0.4">.5</text></g>
<text transform="translate(109.20,271.55) scale(0.830,1)" text-anchor="middle" font-size="10.40" letter-spacing="-0.4" >2</text>
<text transform="translate(136.50,271.55) scale(0.830,1)" text-anchor="middle" font-size="10.40" letter-spacing="-0.4" >2.5</text>
<text transform="translate(163.80,271.55) scale(0.830,1)" text-anchor="middle" font-size="10.40" letter-spacing="-0.4" >3</text>
<text transform="translate(191.10,271.55) scale(0.830,1)" text-anchor="middle" font-size="10.40" letter-spacing="-0.4" >3.5</text>
<text transform="translate(218.40,271.55) scale(0.830,1)" text-anchor="middle" font-size="10.40" letter-spacing="-0.4" >4</text>
<text transform="translate(245.70,271.55) scale(0.830,1)" text-anchor="middle" font-size="10.40" letter-spacing="-0.4" >4.5</text>
<text transform="translate(273.00,271.55) scale(0.830,1)" text-anchor="middle" font-size="10.40" letter-spacing="-0.4" >5</text>
<g transform="translate(-4.30,261.20) scale(0.830,1)" font-size="10.40" ><text x="-8.45" letter-spacing="-0.4">-</text><path transform="translate(-5.38,0) scale(0.00508,-0.00508)" d="M515 0V1237L197 1010V1180L530 1409H696V0Z"/></g>
<text transform="translate(-4.30,235.57) scale(0.830,1)" text-anchor="end" font-size="10.40" letter-spacing="-0.4" >-0.8</text>
<text transform="translate(-4.30,209.94) scale(0.830,1)" text-anchor="end" font-size="10.40" letter-spacing="-0.4" >-0.6</text>
<text transform="translate(-4.30,184.31) scale(0.830,1)" text-anchor="end" font-size="10.40" letter-spacing="-0.4" >-0.4</text>
<text transform="translate(-4.30,158.68) scale(0.830,1)" text-anchor="end" font-size="10.40" letter-spacing="-0.4" >-0.2</text>
<text transform="translate(-4.30,133.05) scale(0.830,1)" text-anchor="end" font-size="10.40" letter-spacing="-0.4" >0</text>
<text transform="translate(-4.30,107.42) scale(0.830,1)" text-anchor="end" font-size="10.40" letter-spacing="-0.4" >0.2</text>
<text transform="translate(-4.30,81.79) scale(0.830,1)" text-anchor="end" font-size="10.40" letter-spacing="-0.4" >0.4</text>
<text transform="translate(-4.30,56.16) scale(0.830,1)" text-anchor="end" font-size="10.40" letter-spacing="-0.4" >0.6</text>
<text transform="translate(-4.30,30.53) scale(0.830,1)" text-anchor="end" font-size="10.40" letter-spacing="-0.4" >0.8</text>
<g transform="translate(-4.30,4.90) scale(0.830,1)" font-size="10.40" ><path transform="translate(-5.38,0) scale(0.00508,-0.00508)" d="M515 0V1237L197 1010V1180L530 1409H696V0Z"/></g>
<text transform="translate(136.70,285.90) scale(0.830,1)" text-anchor="middle" font-size="11.30" letter-spacing="-0.4" >x</text>
<text transform="translate(-22.48,128.43) scale(0.9733,0.9361) rotate(-90) scale(0.930,1)" text-anchor="middle" font-size="11.30">C</text>
<rect x="217.20" y="7.40" width="49.10" height="40.10" fill="#fff" stroke="#787878" stroke-width="1"/>
<line x1="220.10" y1="15.10" x2="245.10" y2="15.10" stroke="#000000" stroke-width="2.0"/>
<polygon points="232.30,10.70 231.18,12.90 228.95,12.90 230.06,15.10 228.95,17.30 231.18,17.30 232.30,19.50 233.42,17.30 235.65,17.30 234.54,15.10 235.65,12.90 233.42,12.90" fill="#000" stroke="#000" stroke-width="0.5" stroke-linejoin="round"/>
<g transform="translate(246.70,19.10) scale(0.830,1)" font-size="9.50" fill="#262626"><text x="0.00" letter-spacing="-0.4">t=0.</text><path transform="translate(14.51,0) scale(0.00464,-0.00464)" d="M515 0V1237L197 1010V1180L530 1409H696V0Z"/></g>
<line x1="220.10" y1="27.65" x2="225.80" y2="27.65" stroke="#ff0000" stroke-width="2.0"/>
<line x1="227.80" y1="27.65" x2="229.60" y2="27.65" stroke="#ff0000" stroke-width="2.0"/>
<line x1="232.30" y1="27.65" x2="240.30" y2="27.65" stroke="#ff0000" stroke-width="2.0"/>
<line x1="241.00" y1="27.65" x2="243.20" y2="27.65" stroke="#ff0000" stroke-width="2.0"/>
<line x1="243.80" y1="27.65" x2="245.10" y2="27.65" stroke="#ff0000" stroke-width="2.0"/>
<circle cx="232.30" cy="27.65" r="2.70" fill="none" stroke="#ff0000" stroke-width="1.75"/>
<text transform="translate(246.70,31.65) scale(0.830,1)" text-anchor="start" font-size="9.50" letter-spacing="-0.4" fill="#262626">t=0.3</text>
<line x1="220.10" y1="40.20" x2="226.10" y2="40.20" stroke="#0000ff" stroke-width="2.0"/>
<line x1="228.50" y1="40.20" x2="230.00" y2="40.20" stroke="#0000ff" stroke-width="2.0"/>
<line x1="232.30" y1="40.20" x2="238.40" y2="40.20" stroke="#0000ff" stroke-width="2.0"/>
<line x1="243.70" y1="40.20" x2="245.50" y2="40.20" stroke="#0000ff" stroke-width="2.0"/>
<polygon points="232.30,36.10 234.75,40.20 232.30,44.30 229.85,40.20" fill="none" stroke="#0000ff" stroke-width="1.7" stroke-linejoin="miter"/>
<text transform="translate(246.70,44.20) scale(0.830,1)" text-anchor="start" font-size="9.50" letter-spacing="-0.4" fill="#262626">t=0.5</text>
</g>
</svg>
</body></html>
